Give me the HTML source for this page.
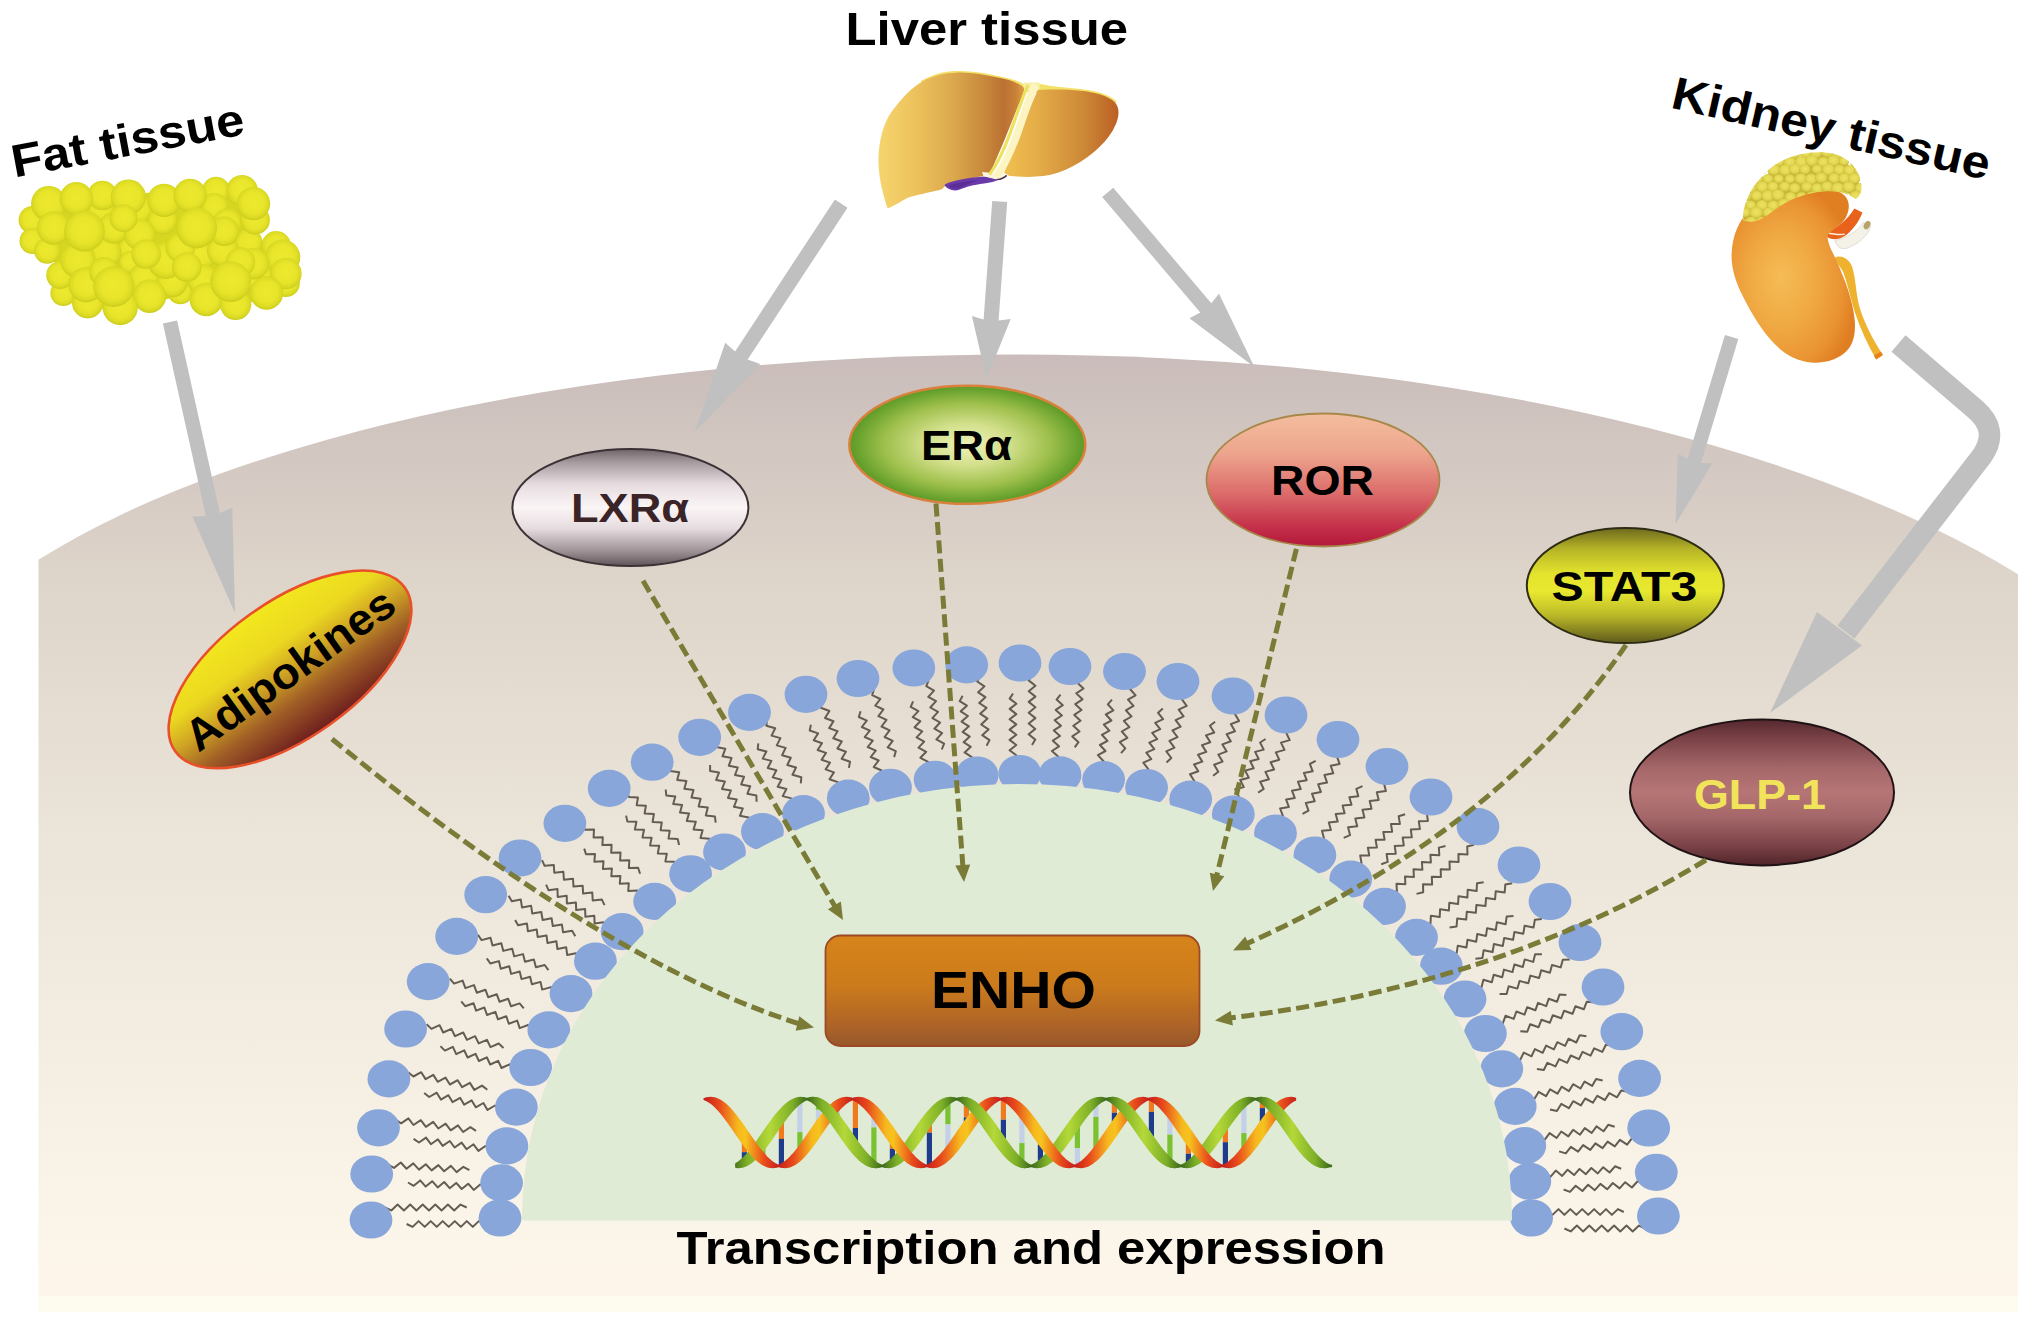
<!DOCTYPE html>
<html><head><meta charset="utf-8"><title>ENHO regulation</title>
<style>html,body{margin:0;padding:0;background:#fff}svg{display:block}</style></head>
<body><svg width="2031" height="1326" viewBox="0 0 2031 1326">
<defs>
<linearGradient id="gDome" x1="0" y1="354" x2="0" y2="1312" gradientUnits="userSpaceOnUse">
<stop offset="0" stop-color="#c9bcba"/><stop offset="0.10" stop-color="#d2c7c1"/><stop offset="0.25" stop-color="#dfd6cb"/>
<stop offset="0.5" stop-color="#ebe4d8"/><stop offset="0.75" stop-color="#f5eee2"/><stop offset="0.93" stop-color="#fcf5ea"/><stop offset="0.983" stop-color="#fdf5ea"/><stop offset="0.984" stop-color="#fefbef"/><stop offset="1" stop-color="#fefbef"/></linearGradient>
<linearGradient id="gBox" x1="0" y1="0" x2="0" y2="1"><stop offset="0" stop-color="#d6841a"/><stop offset="0.45" stop-color="#cc7b1c"/><stop offset="0.78" stop-color="#b06626"/><stop offset="1" stop-color="#98572c"/></linearGradient>
<linearGradient id="gDR" gradientUnits="userSpaceOnUse" x1="704.6" y1="0" x2="778.6" y2="0" spreadMethod="repeat"><stop offset="0" stop-color="#c61f1c"/><stop offset="0.2" stop-color="#e84a1c"/><stop offset="0.45" stop-color="#f6b81e"/><stop offset="0.55" stop-color="#f6c41e"/><stop offset="0.8" stop-color="#ea4e1c"/><stop offset="1" stop-color="#c61f1c"/></linearGradient>
<linearGradient id="gDG" gradientUnits="userSpaceOnUse" x1="732.3" y1="0" x2="807.05" y2="0" spreadMethod="repeat"><stop offset="0" stop-color="#3c6a1a"/><stop offset="0.2" stop-color="#7eb028"/><stop offset="0.5" stop-color="#b4d838"/><stop offset="0.8" stop-color="#7eb028"/><stop offset="1" stop-color="#3c6a1a"/></linearGradient>
<linearGradient id="gLXR" x1="0" y1="0" x2="0" y2="1"><stop offset="0" stop-color="#6f6468"/><stop offset="0.12" stop-color="#a89da1"/><stop offset="0.3" stop-color="#e6dcdf"/><stop offset="0.5" stop-color="#fbf5f6"/><stop offset="0.68" stop-color="#e6dcdf"/><stop offset="0.88" stop-color="#9a8e92"/><stop offset="1" stop-color="#5f5458"/></linearGradient>
<radialGradient id="gER" cx="0.5" cy="0.5" r="0.5"><stop offset="0" stop-color="#eef2b8"/><stop offset="0.35" stop-color="#d3e08c"/><stop offset="0.7" stop-color="#9fc04c"/><stop offset="1" stop-color="#5b9a26"/></radialGradient>
<linearGradient id="gROR" x1="0" y1="0" x2="0" y2="1"><stop offset="0" stop-color="#f3bd9c"/><stop offset="0.3" stop-color="#eda58e"/><stop offset="0.6" stop-color="#dc6c6a"/><stop offset="0.85" stop-color="#c5304a"/><stop offset="1" stop-color="#b3183a"/></linearGradient>
<linearGradient id="gSTAT" x1="0" y1="0" x2="0" y2="1"><stop offset="0" stop-color="#6e6a1e"/><stop offset="0.18" stop-color="#b5b326"/><stop offset="0.4" stop-color="#e4e42e"/><stop offset="0.55" stop-color="#e8e830"/><stop offset="0.75" stop-color="#bdbb28"/><stop offset="1" stop-color="#5e5a1c"/></linearGradient>
<linearGradient id="gGLP" x1="0" y1="0" x2="0" y2="1"><stop offset="0" stop-color="#55282e"/><stop offset="0.14" stop-color="#7c4448"/><stop offset="0.34" stop-color="#a6686a"/><stop offset="0.5" stop-color="#b67575"/><stop offset="0.66" stop-color="#a6686a"/><stop offset="0.86" stop-color="#7c4448"/><stop offset="1" stop-color="#50242a"/></linearGradient>
<linearGradient id="gADI" x1="0" y1="0" x2="0" y2="1"><stop offset="0" stop-color="#f3e81e"/><stop offset="0.3" stop-color="#ebd820"/><stop offset="0.5" stop-color="#cfa424"/><stop offset="0.72" stop-color="#a05e26"/><stop offset="1" stop-color="#6e1e1e"/></linearGradient>
<radialGradient id="gFat" cx="0.5" cy="0.47" r="0.52"><stop offset="0" stop-color="#ede92f"/><stop offset="0.6" stop-color="#e9e52b"/><stop offset="0.85" stop-color="#dcdb24"/><stop offset="1" stop-color="#cdcd1d"/></radialGradient>
<linearGradient id="gLivL" x1="0" y1="0" x2="1" y2="0"><stop offset="0" stop-color="#f6d56e"/><stop offset="0.25" stop-color="#edc25c"/><stop offset="0.5" stop-color="#dcaa4e"/><stop offset="0.72" stop-color="#c98a3c"/><stop offset="0.86" stop-color="#bb7232"/><stop offset="0.94" stop-color="#c98038"/><stop offset="1" stop-color="#dc9c40"/></linearGradient>
<linearGradient id="gLivR" x1="0" y1="0" x2="1" y2="0"><stop offset="0" stop-color="#f0c050"/><stop offset="0.3" stop-color="#e4ac48"/><stop offset="0.7" stop-color="#cc8836"/><stop offset="1" stop-color="#bb5f24"/></linearGradient>
<radialGradient id="gKid" cx="0.42" cy="0.55" r="0.6" fx="0.40" fy="0.5"><stop offset="0" stop-color="#f5bc56"/><stop offset="0.45" stop-color="#f0a942"/><stop offset="0.8" stop-color="#e99332"/><stop offset="1" stop-color="#e07e22"/></radialGradient>
<clipPath id="cCap"><path d="M 1742.6,219.6 C 1743.5,201.5 1751.6,187.1 1760.7,178.0 C 1769.7,167.1 1781.5,159.5 1794.2,155.9 C 1807.7,151.9 1823.1,151.2 1834.5,154.1 C 1845.7,157.0 1855.2,165.7 1859.1,175.5 C 1863.1,185.2 1862.4,194.3 1855.7,199.0 C 1849.4,195.4 1843.9,192.5 1836.7,191.6 C 1825.8,190.3 1815.0,192.1 1804.5,195.0 C 1791.8,198.6 1781.0,204.8 1771.9,212.0 C 1764.3,217.8 1757.4,221.8 1751.3,221.8 C 1747.1,221.8 1743.7,221.4 1742.6,219.6 Z"/></clipPath>
<radialGradient id="gBump" cx="0.5" cy="0.45" r="0.55"><stop offset="0" stop-color="#ece264"/><stop offset="0.6" stop-color="#e4d852"/><stop offset="1" stop-color="#cbbc3a"/></radialGradient>
</defs>
<rect width="2031" height="1326" fill="#fff"/>
<path d="M38.5,1312 L38.5,559.8 A1125.5,407.1 0 0 1 1016.0,354.5 A1200.0,488.7 0 0 1 2018,574.3 L2018,1312 Z" fill="url(#gDome)"/>
<path d="M385.0,1207.5 L391.3,1210.4 L397.6,1204.6 L403.9,1210.4 L410.2,1204.6 L416.4,1210.4 L422.7,1204.6 L429.0,1210.4 L435.3,1204.6 L441.6,1210.4 L447.9,1204.6 L454.2,1210.4 L460.5,1204.6 L466.7,1207.5 M484.8,1224.0 L478.8,1221.1 L472.8,1226.9 L466.8,1221.1 L460.8,1226.9 L454.8,1221.1 L448.7,1226.9 L442.7,1221.1 L436.7,1226.9 L430.7,1221.1 L424.7,1226.9 L418.6,1221.1 L412.6,1226.9 L406.6,1224.0 M388.0,1164.6 L394.0,1167.9 L400.8,1162.5 L406.5,1168.7 L413.3,1163.4 L419.0,1169.6 L425.8,1164.2 L431.6,1170.4 L438.4,1165.1 L444.1,1171.3 L450.9,1165.9 L456.6,1172.1 L463.4,1166.8 L469.4,1170.1 M486.0,1187.8 L480.2,1184.5 L473.7,1189.9 L468.2,1183.7 L461.7,1189.0 L456.2,1182.9 L449.7,1188.2 L444.2,1182.0 L437.7,1187.4 L432.2,1181.2 L425.7,1186.6 L420.2,1180.4 L413.7,1185.8 L408.0,1182.5 M395.4,1119.5 L401.1,1123.3 L408.4,1118.4 L413.5,1125.0 L420.8,1120.2 L425.9,1126.8 L433.2,1121.9 L438.3,1128.5 L445.6,1123.7 L450.7,1130.3 L458.0,1125.4 L463.1,1132.0 L470.4,1127.2 L476.0,1130.9 M490.8,1149.7 L485.4,1146.0 L478.4,1150.9 L473.5,1144.3 L466.5,1149.2 L461.6,1142.6 L454.6,1147.5 L449.8,1141.0 L442.7,1145.9 L437.9,1139.3 L430.9,1144.2 L426.0,1137.6 L419.0,1142.5 L413.6,1138.8 M408.1,1072.3 L413.4,1076.5 L421.2,1072.2 L425.6,1079.1 L433.3,1074.9 L437.7,1081.8 L445.5,1077.6 L449.9,1084.5 L457.7,1080.2 L462.1,1087.2 L469.9,1082.9 L474.3,1089.9 L482.0,1085.6 L487.3,1089.8 M500.0,1109.6 L495.0,1105.5 L487.5,1109.9 L483.4,1103.0 L475.8,1107.3 L471.7,1100.4 L464.2,1104.7 L460.1,1097.8 L452.5,1102.1 L448.4,1095.2 L440.9,1099.6 L436.7,1092.7 L429.2,1097.0 L424.2,1092.9 M426.6,1024.3 L431.4,1028.9 L439.6,1025.2 L443.2,1032.5 L451.4,1028.9 L455.0,1036.2 L463.2,1032.5 L466.9,1039.8 L475.1,1036.2 L478.7,1043.4 L486.9,1039.8 L490.5,1047.1 L498.7,1043.5 L503.5,1048.0 M514.0,1068.8 L509.5,1064.3 L501.5,1068.0 L498.2,1060.8 L490.2,1064.5 L486.8,1057.3 L478.9,1061.0 L475.5,1053.8 L467.6,1057.5 L464.2,1050.3 L456.2,1054.1 L452.9,1046.9 L444.9,1050.6 L440.4,1046.1 M449.8,978.7 L454.1,983.6 L462.6,980.6 L465.4,988.1 L474.0,985.1 L476.8,992.7 L485.4,989.7 L488.2,997.2 L496.8,994.3 L499.6,1001.8 L508.2,998.8 L511.0,1006.3 L519.6,1003.4 L523.8,1008.3 M532.1,1029.8 L528.1,1025.0 L519.7,1028.1 L517.2,1020.6 L508.8,1023.7 L506.3,1016.3 L497.9,1019.3 L495.4,1011.9 L487.0,1015.0 L484.4,1007.5 L476.1,1010.6 L473.5,1003.2 L465.2,1006.2 L461.2,1001.4 M477.9,934.8 L481.6,940.1 L490.5,937.8 L492.5,945.5 L501.3,943.2 L503.3,950.9 L512.2,948.7 L514.2,956.4 L523.0,954.1 L525.0,961.8 L533.9,959.5 L535.9,967.3 L544.7,965.0 L548.4,970.2 M554.3,992.3 L550.9,987.1 L542.2,989.6 L540.5,981.9 L531.9,984.3 L530.1,976.7 L521.5,979.1 L519.7,971.5 L511.1,973.9 L509.3,966.3 L500.7,968.7 L498.9,961.1 L490.3,963.5 L486.8,958.4 M508.6,895.7 L511.8,901.2 L520.8,899.6 L522.0,907.4 L531.1,905.8 L532.3,913.6 L541.3,912.0 L542.6,919.9 L551.6,918.2 L552.8,926.1 L561.9,924.5 L563.1,932.3 L572.1,930.7 L575.3,936.2 M579.0,958.6 L576.0,953.2 L567.2,955.0 L566.2,947.3 L557.4,949.0 L556.4,941.3 L547.5,943.1 L546.5,935.4 L537.7,937.1 L536.7,929.4 L527.9,931.2 L526.9,923.5 L518.1,925.2 L515.1,919.9 M542.0,860.1 L544.6,865.8 L553.8,864.9 L554.3,872.8 L563.4,871.8 L563.9,879.7 L573.0,878.7 L573.5,886.6 L582.7,885.7 L583.1,893.6 L592.3,892.6 L592.7,900.5 L601.9,899.6 L604.5,905.2 M605.9,927.9 L603.5,922.3 L594.6,923.4 L594.3,915.7 L585.4,916.8 L585.1,909.0 L576.2,910.1 L575.9,902.4 L566.9,903.5 L566.7,895.7 L557.7,896.9 L557.5,889.1 L548.5,890.2 L546.1,884.7 M582.7,823.9 L584.7,829.7 L594.0,829.5 L593.6,837.4 L602.8,837.2 L602.4,845.1 L611.6,844.8 L611.2,852.7 L620.5,852.5 L620.1,860.4 L629.3,860.2 L628.9,868.1 L638.1,867.8 L640.1,873.7 M639.1,896.3 L637.3,890.6 L628.2,891.0 L628.8,883.3 L619.8,883.7 L620.4,875.9 L611.3,876.3 L611.9,868.6 L602.9,869.0 L603.5,861.3 L594.4,861.7 L595.0,853.9 L586.0,854.3 L584.2,848.6 M627.4,790.9 L628.7,796.9 L638.0,797.4 L636.7,805.2 L645.9,805.7 L644.6,813.5 L653.9,814.0 L652.6,821.9 L661.8,822.4 L660.6,830.2 L669.8,830.7 L668.5,838.6 L677.7,839.1 L679.1,845.1 M675.6,867.5 L674.4,861.7 L665.4,861.4 L666.8,853.7 L657.8,853.4 L659.2,845.7 L650.1,845.4 L651.6,837.7 L642.5,837.4 L644.0,829.8 L634.9,829.4 L636.4,821.8 L627.3,821.4 L626.1,815.6 M669.3,765.0 L670.1,771.0 L679.2,772.2 L677.2,779.9 L686.4,781.0 L684.4,788.8 L693.5,789.9 L691.5,797.6 L700.6,798.8 L698.6,806.5 L707.8,807.6 L705.8,815.4 L714.9,816.5 L715.7,822.6 M710.1,844.7 L709.5,838.8 L700.5,837.9 L702.6,830.3 L693.6,829.4 L695.8,821.8 L686.8,820.9 L689.0,813.4 L680.0,812.4 L682.1,804.9 L673.2,803.9 L675.3,796.4 L666.3,795.4 L665.7,789.5 M716.2,740.8 L716.3,747.0 L725.3,748.8 L722.5,756.3 L731.5,758.1 L728.8,765.7 L737.8,767.5 L735.0,775.0 L744.0,776.8 L741.2,784.4 L750.2,786.2 L747.4,793.8 L756.4,795.6 L756.6,801.7 M748.8,823.3 L748.7,817.4 L739.9,815.8 L742.8,808.4 L733.9,806.8 L736.8,799.5 L728.0,797.9 L730.9,790.5 L722.0,788.9 L724.9,781.6 L716.1,780.0 L719.0,772.6 L710.1,771.0 L710.1,765.1 M766.9,719.7 L766.4,725.8 L775.2,728.3 L771.6,735.6 L780.4,738.1 L776.8,745.4 L785.6,747.9 L782.1,755.2 L790.8,757.7 L787.3,765.0 L796.0,767.5 L792.5,774.8 L801.3,777.3 L800.8,783.4 M790.8,804.3 L791.4,798.4 L782.7,796.1 L786.4,789.0 L777.7,786.8 L781.4,779.7 L772.7,777.4 L776.4,770.3 L767.7,768.0 L771.4,760.9 L762.7,758.6 L766.4,751.5 L757.7,749.3 L758.3,743.4 M822.0,701.8 L820.9,707.8 L829.4,711.0 L825.0,718.0 L833.5,721.2 L829.2,728.1 L837.6,731.3 L833.3,738.3 L841.8,741.5 L837.4,748.5 L845.9,751.7 L841.6,758.7 L850.0,761.8 L848.9,767.9 M836.7,787.9 L837.9,782.1 L829.5,779.2 L833.9,772.4 L825.6,769.4 L830.0,762.6 L821.6,759.7 L826.0,752.9 L817.6,750.0 L822.0,743.2 L813.7,740.2 L818.1,733.4 L809.7,730.5 L810.9,724.7 M873.9,689.3 L872.2,695.2 L880.3,699.0 L875.3,705.7 L883.4,709.5 L878.4,716.1 L886.5,719.9 L881.5,726.5 L889.6,730.3 L884.6,737.0 L892.7,740.8 L887.7,747.4 L895.8,751.2 L894.1,757.1 M879.9,776.2 L881.7,770.5 L873.7,767.0 L878.7,760.5 L870.7,757.0 L875.8,750.6 L867.7,747.0 L872.8,740.6 L864.7,737.0 L869.8,730.6 L861.8,727.0 L866.8,720.6 L858.8,717.0 L860.6,711.3 M928.6,680.4 L926.3,686.2 L934.0,690.6 L928.3,696.9 L936.0,701.2 L930.3,707.5 L938.0,711.9 L932.4,718.1 L940.1,722.5 L934.4,728.7 L942.1,733.1 L936.4,739.4 L944.1,743.7 L941.8,749.5 M925.7,767.5 L928.1,761.9 L920.4,757.8 L926.2,751.8 L918.5,747.6 L924.2,741.6 L916.6,737.4 L922.3,731.4 L914.6,727.3 L920.3,721.2 L912.7,717.1 L918.4,711.1 L910.7,706.9 L913.1,701.4 M980.0,675.9 L977.2,681.5 L984.4,686.4 L978.2,692.3 L985.4,697.2 L979.2,703.0 L986.5,707.9 L980.2,713.7 L987.5,718.6 L981.2,724.5 L988.5,729.4 L982.2,735.2 L989.5,740.1 L986.6,745.7 M968.9,762.5 L971.8,757.1 L964.6,752.4 L970.8,746.8 L963.6,742.2 L969.8,736.6 L962.6,731.9 L968.9,726.3 L961.6,721.6 L967.9,716.0 L960.7,711.3 L966.9,705.7 L959.7,701.1 L962.6,695.7 M1032.1,675.0 L1028.7,680.4 L1035.4,685.8 L1028.7,691.2 L1035.4,696.6 L1028.7,701.9 L1035.4,707.3 L1028.7,712.7 L1035.4,718.1 L1028.7,723.5 L1035.3,728.9 L1028.6,734.2 L1035.3,739.6 L1032.0,745.0 M1012.9,760.5 L1016.3,755.3 L1009.6,750.2 L1016.3,745.0 L1009.6,739.9 L1016.3,734.7 L1009.6,729.6 L1016.3,724.4 L1009.6,719.3 L1016.3,714.1 L1009.7,708.9 L1016.4,703.8 L1009.7,698.6 L1013.0,693.5 M1081.1,677.6 L1077.3,682.7 L1083.5,688.5 L1076.3,693.4 L1082.5,699.3 L1075.3,704.2 L1081.5,710.0 L1074.3,714.9 L1080.5,720.7 L1073.3,725.7 L1079.5,731.5 L1072.3,736.4 L1078.5,742.2 L1074.7,747.4 M1054.3,761.5 L1058.1,756.6 L1051.9,751.0 L1059.0,746.3 L1052.8,740.7 L1060.0,736.0 L1053.8,730.4 L1060.9,725.8 L1054.7,720.2 L1061.9,715.5 L1055.7,709.9 L1062.8,705.2 L1056.6,699.6 L1060.5,694.7 M1134.3,684.2 L1130.0,689.0 L1135.6,695.3 L1128.0,699.6 L1133.5,705.9 L1125.9,710.3 L1131.5,716.5 L1123.9,720.9 L1129.4,727.2 L1121.8,731.5 L1127.4,737.8 L1119.8,742.1 L1125.3,748.4 L1121.0,753.2 M1099.3,765.8 L1103.6,761.2 L1097.9,755.1 L1105.5,751.0 L1099.9,745.0 L1107.5,740.9 L1101.9,734.8 L1109.4,730.7 L1103.8,724.6 L1111.4,720.5 L1105.8,714.5 L1113.4,710.4 L1107.8,704.3 L1112.0,699.7 M1186.6,694.7 L1181.8,699.2 L1186.7,705.9 L1178.7,709.6 L1183.6,716.3 L1175.6,720.1 L1180.6,726.7 L1172.5,730.5 L1177.5,737.1 L1169.4,740.9 L1174.4,747.6 L1166.3,751.3 L1171.3,758.0 L1166.5,762.5 M1143.6,773.4 L1148.3,769.1 L1143.3,762.7 L1151.3,759.2 L1146.3,752.7 L1154.3,749.2 L1149.3,742.7 L1157.2,739.2 L1152.2,732.8 L1160.2,729.2 L1155.2,722.8 L1163.1,719.2 L1158.1,712.8 L1162.8,708.5 M1240.2,709.9 L1234.9,714.0 L1239.1,721.0 L1230.8,724.1 L1235.0,731.2 L1226.6,734.3 L1230.8,741.3 L1222.4,744.4 L1226.7,751.4 L1218.3,754.6 L1222.5,761.6 L1214.1,764.7 L1218.3,771.7 L1213.1,775.8 M1189.2,784.9 L1194.3,781.0 L1190.0,774.2 L1198.3,771.3 L1194.0,764.5 L1202.3,761.6 L1198.0,754.8 L1206.3,751.9 L1202.0,745.1 L1210.3,742.2 L1206.0,735.4 L1214.3,732.5 L1209.9,725.7 L1215.1,721.8 M1291.8,729.1 L1286.2,732.8 L1289.7,740.1 L1281.0,742.6 L1284.5,749.9 L1275.8,752.4 L1279.3,759.7 L1270.6,762.2 L1274.1,769.5 L1265.4,771.9 L1268.9,779.3 L1260.2,781.7 L1263.7,789.0 L1258.1,792.7 M1233.3,799.9 L1238.8,796.4 L1235.2,789.3 L1243.8,787.1 L1240.2,780.0 L1248.8,777.7 L1245.2,770.6 L1253.7,768.3 L1250.2,761.2 L1258.7,759.0 L1255.1,751.9 L1263.7,749.6 L1260.1,742.5 L1265.6,739.0 M1342.9,753.2 L1336.9,756.4 L1339.6,763.9 L1330.7,765.7 L1333.3,773.3 L1324.4,775.0 L1327.1,782.6 L1318.2,784.3 L1320.9,791.9 L1312.0,793.7 L1314.7,801.2 L1305.8,803.0 L1308.5,810.6 L1302.5,813.8 M1277.1,818.9 L1282.9,815.9 L1280.1,808.5 L1288.9,807.0 L1286.1,799.6 L1294.8,798.1 L1292.0,790.7 L1300.8,789.1 L1298.0,781.8 L1306.7,780.2 L1303.9,772.9 L1312.7,771.3 L1309.9,763.9 L1315.7,760.9 M1390.3,780.6 L1384.0,783.4 L1385.9,791.1 L1376.8,792.2 L1378.7,799.9 L1369.7,801.0 L1371.5,808.7 L1362.5,809.7 L1364.4,817.5 L1355.3,818.5 L1357.2,826.3 L1348.1,827.3 L1350.0,835.1 L1343.7,837.8 M1317.9,840.9 L1324.0,838.4 L1322.0,830.8 L1330.9,830.0 L1328.8,822.4 L1337.7,821.6 L1335.7,814.0 L1344.6,813.2 L1342.6,805.6 L1351.5,804.7 L1349.4,797.2 L1358.3,796.3 L1356.3,788.8 L1362.5,786.2 M1433.4,810.8 L1426.8,813.0 L1427.9,820.9 L1418.8,821.2 L1419.9,829.1 L1410.8,829.4 L1411.8,837.3 L1402.7,837.6 L1403.8,845.5 L1394.7,845.9 L1395.8,853.7 L1386.6,854.1 L1387.7,861.9 L1381.2,864.2 M1355.1,865.3 L1361.5,863.2 L1360.2,855.6 L1369.2,855.4 L1367.9,847.7 L1376.9,847.5 L1375.6,839.8 L1384.6,839.7 L1383.3,832.0 L1392.2,831.8 L1391.0,824.1 L1399.9,823.9 L1398.7,816.3 L1405.1,814.2 M1474.0,844.8 L1467.2,846.5 L1467.5,854.4 L1458.4,854.1 L1458.6,862.0 L1449.5,861.6 L1449.8,869.5 L1440.7,869.2 L1440.9,877.1 L1431.8,876.7 L1432.1,884.6 L1423.0,884.3 L1423.2,892.2 L1416.5,893.9 M1390.4,893.0 L1396.9,891.4 L1396.5,883.7 L1405.4,884.2 L1405.0,876.5 L1413.9,877.0 L1413.5,869.2 L1422.4,869.8 L1421.9,862.0 L1430.9,862.5 L1430.4,854.8 L1439.3,855.3 L1438.9,847.6 L1445.5,846.0 M1512.2,883.3 L1505.3,884.5 L1504.7,892.4 L1495.7,891.3 L1495.1,899.2 L1486.0,898.1 L1485.5,906.0 L1476.4,904.9 L1475.8,912.8 L1466.8,911.7 L1466.2,919.6 L1457.2,918.5 L1456.6,926.4 L1449.6,927.5 M1423.8,924.5 L1430.5,923.5 L1430.9,915.7 L1439.7,917.0 L1440.1,909.2 L1448.9,910.5 L1449.3,902.7 L1458.1,904.0 L1458.5,896.2 L1467.4,897.5 L1467.7,889.7 L1476.6,891.0 L1477.0,883.2 L1483.7,882.2 M1541.9,919.1 L1534.9,919.7 L1533.5,927.6 L1524.6,925.8 L1523.3,933.7 L1514.4,931.9 L1513.1,939.8 L1504.2,938.0 L1502.8,945.9 L1493.9,944.1 L1492.6,952.0 L1483.7,950.2 L1482.4,958.1 L1475.4,958.7 M1449.9,953.9 L1456.6,953.4 L1457.8,945.7 L1466.4,947.5 L1467.5,939.8 L1476.2,941.7 L1477.3,934.0 L1486.0,935.9 L1487.1,928.2 L1495.8,930.0 L1496.9,922.3 L1505.6,924.2 L1506.7,916.5 L1513.5,916.0 M1569.8,959.6 L1562.8,959.7 L1560.7,967.4 L1552.0,965.0 L1549.9,972.7 L1541.2,970.3 L1539.1,978.0 L1530.4,975.6 L1528.3,983.3 L1519.6,980.9 L1517.4,988.6 L1508.7,986.2 L1506.6,993.9 L1499.6,994.1 M1474.7,987.3 L1481.5,987.3 L1483.4,979.7 L1491.8,982.2 L1493.7,974.7 L1502.2,977.2 L1504.0,969.6 L1512.5,972.1 L1514.4,964.5 L1522.8,967.0 L1524.7,959.4 L1533.2,961.9 L1535.1,954.3 L1541.9,954.3 M1593.7,1002.2 L1586.7,1001.8 L1583.8,1009.3 L1575.4,1006.3 L1572.5,1013.8 L1564.1,1010.7 L1561.2,1018.3 L1552.8,1015.2 L1549.9,1022.7 L1541.5,1019.7 L1538.6,1027.2 L1530.2,1024.2 L1527.3,1031.7 L1520.3,1031.3 M1496.1,1022.7 L1502.9,1023.2 L1505.5,1015.8 L1513.7,1018.9 L1516.4,1011.5 L1524.5,1014.6 L1527.2,1007.2 L1535.4,1010.3 L1538.0,1002.9 L1546.2,1006.1 L1548.8,998.7 L1557.0,1001.8 L1559.6,994.4 L1566.4,994.9 M1612.9,1045.6 L1605.9,1044.7 L1602.3,1051.9 L1594.2,1048.3 L1590.6,1055.6 L1582.5,1051.9 L1578.9,1059.2 L1570.8,1055.5 L1567.2,1062.8 L1559.1,1059.1 L1555.5,1066.4 L1547.4,1062.8 L1543.8,1070.0 L1536.9,1069.1 M1513.6,1058.8 L1520.3,1059.8 L1523.7,1052.6 L1531.5,1056.3 L1534.9,1049.1 L1542.7,1052.8 L1546.1,1045.6 L1553.9,1049.4 L1557.3,1042.2 L1565.1,1045.9 L1568.5,1038.7 L1576.3,1042.5 L1579.7,1035.3 L1586.4,1036.3 M1628.1,1091.8 L1621.3,1090.4 L1617.0,1097.3 L1609.3,1093.1 L1604.9,1100.0 L1597.3,1095.8 L1592.9,1102.7 L1585.2,1098.5 L1580.9,1105.4 L1573.2,1101.2 L1568.9,1108.2 L1561.2,1103.9 L1556.9,1110.9 L1550.0,1109.4 M1527.9,1097.3 L1534.5,1098.8 L1538.6,1091.9 L1546.0,1096.2 L1550.1,1089.3 L1557.5,1093.7 L1561.6,1086.7 L1569.0,1091.1 L1573.1,1084.2 L1580.5,1088.5 L1584.6,1081.6 L1592.1,1085.9 L1596.1,1079.0 L1602.7,1080.5 M1638.8,1140.1 L1632.1,1138.1 L1627.1,1144.7 L1619.9,1139.8 L1614.8,1146.4 L1607.6,1141.6 L1602.6,1148.2 L1595.4,1143.3 L1590.3,1149.9 L1583.1,1145.1 L1578.1,1151.7 L1570.9,1146.8 L1565.8,1153.4 L1559.1,1151.4 M1538.4,1137.7 L1544.8,1139.7 L1549.6,1133.1 L1556.6,1138.0 L1561.3,1131.5 L1568.3,1136.4 L1573.1,1129.8 L1580.0,1134.7 L1584.8,1128.1 L1591.7,1133.0 L1596.5,1126.4 L1603.5,1131.3 L1608.2,1124.8 L1614.7,1126.8 M1644.0,1183.7 L1637.6,1181.3 L1631.9,1187.5 L1625.2,1182.2 L1619.6,1188.4 L1612.8,1183.0 L1607.2,1189.3 L1600.4,1183.9 L1594.8,1190.2 L1588.1,1184.8 L1582.4,1191.0 L1575.7,1185.7 L1570.0,1191.9 L1563.6,1189.5 M1544.2,1174.3 L1550.4,1176.8 L1555.8,1170.6 L1562.2,1175.9 L1567.6,1169.7 L1574.1,1175.1 L1579.5,1168.9 L1585.9,1174.2 L1591.3,1168.0 L1597.8,1173.4 L1603.2,1167.2 L1609.6,1172.5 L1615.0,1166.3 L1621.2,1168.8 M1645.2,1228.5 L1639.0,1225.6 L1632.7,1231.4 L1626.5,1225.6 L1620.3,1231.4 L1614.1,1225.6 L1607.9,1231.4 L1601.7,1225.6 L1595.5,1231.4 L1589.3,1225.6 L1583.1,1231.4 L1576.9,1225.6 L1570.7,1231.4 L1564.4,1228.5 M1546.6,1212.0 L1552.5,1214.9 L1558.5,1209.1 L1564.4,1214.9 L1570.3,1209.1 L1576.3,1214.9 L1582.2,1209.1 L1588.2,1214.9 L1594.1,1209.1 L1600.1,1214.9 L1606.0,1209.1 L1611.9,1214.9 L1617.9,1209.1 L1623.8,1212.0" fill="none" stroke="#645c52" stroke-width="2" stroke-linejoin="round"/>
<g fill="#88a6da"><ellipse cx="371.0" cy="1220.0" rx="21.4" ry="18.6"/><ellipse cx="371.7" cy="1174.0" rx="21.4" ry="18.6"/><ellipse cx="378.5" cy="1127.8" rx="21.4" ry="18.6"/><ellipse cx="388.9" cy="1078.9" rx="21.4" ry="18.6"/><ellipse cx="405.6" cy="1029.0" rx="21.4" ry="18.6"/><ellipse cx="428.2" cy="981.6" rx="21.4" ry="18.6"/><ellipse cx="456.7" cy="936.4" rx="21.4" ry="18.6"/><ellipse cx="485.7" cy="894.7" rx="21.4" ry="18.6"/><ellipse cx="520.0" cy="858.0" rx="21.4" ry="18.6"/><ellipse cx="564.9" cy="823.3" rx="21.4" ry="18.6"/><ellipse cx="609.2" cy="788.4" rx="21.4" ry="18.6"/><ellipse cx="652.2" cy="762.2" rx="21.4" ry="18.6"/><ellipse cx="699.7" cy="737.3" rx="21.4" ry="18.6"/><ellipse cx="749.5" cy="712.4" rx="21.4" ry="18.6"/><ellipse cx="806.0" cy="694.3" rx="21.4" ry="18.6"/><ellipse cx="858.0" cy="678.5" rx="21.4" ry="18.6"/><ellipse cx="913.8" cy="668.0" rx="21.4" ry="18.6"/><ellipse cx="966.7" cy="664.9" rx="21.4" ry="18.6"/><ellipse cx="1020.0" cy="663.0" rx="21.4" ry="18.6"/><ellipse cx="1070.0" cy="666.5" rx="21.4" ry="18.6"/><ellipse cx="1124.5" cy="671.5" rx="21.4" ry="18.6"/><ellipse cx="1178.0" cy="681.5" rx="21.4" ry="18.6"/><ellipse cx="1233.0" cy="696.0" rx="21.4" ry="18.6"/><ellipse cx="1286.0" cy="715.0" rx="21.4" ry="18.6"/><ellipse cx="1338.0" cy="739.5" rx="21.4" ry="18.6"/><ellipse cx="1387.0" cy="766.5" rx="21.4" ry="18.6"/><ellipse cx="1431.0" cy="797.0" rx="21.4" ry="18.6"/><ellipse cx="1478.0" cy="826.7" rx="21.4" ry="18.6"/><ellipse cx="1519.0" cy="865.0" rx="21.4" ry="18.6"/><ellipse cx="1550.0" cy="901.5" rx="21.4" ry="18.6"/><ellipse cx="1580.0" cy="942.5" rx="21.4" ry="18.6"/><ellipse cx="1603.0" cy="987.0" rx="21.4" ry="18.6"/><ellipse cx="1621.8" cy="1031.7" rx="21.4" ry="18.6"/><ellipse cx="1639.6" cy="1078.4" rx="21.4" ry="18.6"/><ellipse cx="1648.7" cy="1128.0" rx="21.4" ry="18.6"/><ellipse cx="1656.3" cy="1172.3" rx="21.4" ry="18.6"/><ellipse cx="1658.4" cy="1216.0" rx="21.4" ry="18.6"/><ellipse cx="500.0" cy="1218.0" rx="21.4" ry="18.6"/><ellipse cx="501.6" cy="1182.8" rx="21.4" ry="18.6"/><ellipse cx="506.9" cy="1145.9" rx="21.4" ry="18.6"/><ellipse cx="516.4" cy="1107.1" rx="21.4" ry="18.6"/><ellipse cx="530.7" cy="1067.5" rx="21.4" ry="18.6"/><ellipse cx="548.8" cy="1029.9" rx="21.4" ry="18.6"/><ellipse cx="571.0" cy="993.6" rx="21.4" ry="18.6"/><ellipse cx="595.4" cy="961.2" rx="21.4" ry="18.6"/><ellipse cx="622.1" cy="931.6" rx="21.4" ry="18.6"/><ellipse cx="654.7" cy="901.4" rx="21.4" ry="18.6"/><ellipse cx="690.6" cy="873.8" rx="21.4" ry="18.6"/><ellipse cx="724.5" cy="852.0" rx="21.4" ry="18.6"/><ellipse cx="762.4" cy="831.6" rx="21.4" ry="18.6"/><ellipse cx="803.5" cy="813.6" rx="21.4" ry="18.6"/><ellipse cx="848.3" cy="798.2" rx="21.4" ry="18.6"/><ellipse cx="890.5" cy="787.3" rx="21.4" ry="18.6"/><ellipse cx="935.1" cy="779.3" rx="21.4" ry="18.6"/><ellipse cx="977.1" cy="775.0" rx="21.4" ry="18.6"/><ellipse cx="1019.8" cy="773.5" rx="21.4" ry="18.6"/><ellipse cx="1060.0" cy="774.9" rx="21.4" ry="18.6"/><ellipse cx="1103.6" cy="779.6" rx="21.4" ry="18.6"/><ellipse cx="1146.6" cy="787.5" rx="21.4" ry="18.6"/><ellipse cx="1190.7" cy="799.2" rx="21.4" ry="18.6"/><ellipse cx="1233.3" cy="814.2" rx="21.4" ry="18.6"/><ellipse cx="1275.5" cy="833.2" rx="21.4" ry="18.6"/><ellipse cx="1314.9" cy="855.0" rx="21.4" ry="18.6"/><ellipse cx="1350.7" cy="879.1" rx="21.4" ry="18.6"/><ellipse cx="1384.5" cy="906.4" rx="21.4" ry="18.6"/><ellipse cx="1416.5" cy="937.4" rx="21.4" ry="18.6"/><ellipse cx="1441.4" cy="966.2" rx="21.4" ry="18.6"/><ellipse cx="1465.0" cy="999.0" rx="21.4" ry="18.6"/><ellipse cx="1485.4" cy="1033.5" rx="21.4" ry="18.6"/><ellipse cx="1501.8" cy="1068.8" rx="21.4" ry="18.6"/><ellipse cx="1515.2" cy="1106.4" rx="21.4" ry="18.6"/><ellipse cx="1524.8" cy="1145.7" rx="21.4" ry="18.6"/><ellipse cx="1529.8" cy="1181.4" rx="21.4" ry="18.6"/><ellipse cx="1531.6" cy="1218.0" rx="21.4" ry="18.6"/></g>
<path d="M522.0,1220.5 L522.0,1218 A497.0,434.0 0 0 1 1019,784.0 A493.0,434.0 0 0 1 1512.0,1218 L1512.0,1220.5 Z" fill="#dfebd5"/>
<rect x="825.5" y="935.5" width="374" height="110.5" rx="15" ry="15" fill="url(#gBox)" stroke="#9c4a26" stroke-width="1.8"/>
<rect x="741.8" y="1136.6" width="5.2" height="15.6" fill="#f07a1e"/><rect x="741.8" y="1152.2" width="5.2" height="10.4" fill="#1f3c8c"/><rect x="760.3" y="1142.2" width="5.2" height="5.2" fill="#c4cfe8"/><rect x="760.3" y="1147.4" width="5.2" height="12.2" fill="#7ac231"/><rect x="778.8" y="1116.2" width="5.2" height="22.8" fill="#f07a1e"/><rect x="778.8" y="1138.9" width="5.2" height="27.8" fill="#1f3c8c"/><rect x="797.3" y="1099.5" width="5.2" height="32.6" fill="#c4cfe8"/><rect x="797.3" y="1132.1" width="5.2" height="21.7" fill="#7ac231"/><rect x="815.8" y="1101.9" width="5.2" height="8.0" fill="#7ac231"/><rect x="815.8" y="1109.8" width="5.2" height="18.6" fill="#c4cfe8"/><rect x="834.3" y="1105.4" width="5.2" height="7.4" fill="#c4cfe8"/><rect x="834.3" y="1112.8" width="5.2" height="9.0" fill="#7ac231"/><rect x="852.8" y="1098.2" width="5.2" height="29.8" fill="#f07a1e"/><rect x="852.8" y="1128.0" width="5.2" height="19.8" fill="#1f3c8c"/><rect x="871.3" y="1111.2" width="5.2" height="16.2" fill="#c4cfe8"/><rect x="871.3" y="1127.4" width="5.2" height="37.8" fill="#7ac231"/><rect x="889.8" y="1136.6" width="5.2" height="12.2" fill="#f07a1e"/><rect x="889.8" y="1148.8" width="5.2" height="14.9" fill="#1f3c8c"/><rect x="926.8" y="1118.1" width="5.2" height="14.6" fill="#f07a1e"/><rect x="926.8" y="1132.7" width="5.2" height="34.0" fill="#1f3c8c"/><rect x="945.3" y="1100.3" width="5.2" height="24.1" fill="#7ac231"/><rect x="945.3" y="1124.4" width="5.2" height="29.5" fill="#c4cfe8"/><rect x="963.8" y="1100.9" width="5.2" height="16.5" fill="#f07a1e"/><rect x="963.8" y="1117.4" width="5.2" height="11.0" fill="#1f3c8c"/><rect x="1000.8" y="1098.2" width="5.2" height="21.4" fill="#f07a1e"/><rect x="1000.8" y="1119.7" width="5.2" height="26.2" fill="#1f3c8c"/><rect x="1019.3" y="1111.2" width="5.2" height="31.9" fill="#c4cfe8"/><rect x="1019.3" y="1143.1" width="5.2" height="21.3" fill="#7ac231"/><rect x="1037.8" y="1136.6" width="5.2" height="8.4" fill="#f07a1e"/><rect x="1037.8" y="1145.0" width="5.2" height="19.5" fill="#1f3c8c"/><rect x="1074.8" y="1120.1" width="5.2" height="28.0" fill="#7ac231"/><rect x="1074.8" y="1148.1" width="5.2" height="18.7" fill="#c4cfe8"/><rect x="1093.3" y="1101.1" width="5.2" height="15.8" fill="#c4cfe8"/><rect x="1093.3" y="1116.9" width="5.2" height="36.9" fill="#7ac231"/><rect x="1111.8" y="1100.1" width="5.2" height="12.7" fill="#f07a1e"/><rect x="1111.8" y="1112.8" width="5.2" height="15.6" fill="#1f3c8c"/><rect x="1148.8" y="1098.2" width="5.2" height="13.7" fill="#f07a1e"/><rect x="1148.8" y="1111.9" width="5.2" height="31.9" fill="#1f3c8c"/><rect x="1167.3" y="1111.2" width="5.2" height="23.5" fill="#c4cfe8"/><rect x="1167.3" y="1134.7" width="5.2" height="28.8" fill="#7ac231"/><rect x="1185.8" y="1136.6" width="5.2" height="17.2" fill="#f07a1e"/><rect x="1185.8" y="1153.8" width="5.2" height="11.5" fill="#1f3c8c"/><rect x="1222.8" y="1122.2" width="5.2" height="20.1" fill="#f07a1e"/><rect x="1222.8" y="1142.2" width="5.2" height="24.5" fill="#1f3c8c"/><rect x="1241.3" y="1102.1" width="5.2" height="31.1" fill="#c4cfe8"/><rect x="1241.3" y="1133.1" width="5.2" height="20.7" fill="#7ac231"/><rect x="1259.8" y="1099.4" width="5.2" height="8.7" fill="#f07a1e"/><rect x="1259.8" y="1108.1" width="5.2" height="20.3" fill="#1f3c8c"/><path d="M736.3,1166.9 L738.3,1167.0 L740.3,1166.9 L742.3,1166.5 L744.3,1165.9 L746.3,1165.1 L748.3,1164.0 L750.3,1162.7 L752.3,1161.2 L754.3,1159.5 L756.3,1157.6 L758.3,1155.5 L760.3,1153.2 L762.3,1150.9 L764.3,1148.3 L766.3,1145.7 L768.3,1143.0 L770.3,1140.2 L772.3,1137.3 L774.3,1134.4 L776.3,1131.5 L778.3,1128.6 L780.4,1125.8 L782.4,1122.9 L784.4,1120.2 L786.4,1117.5 L788.4,1115.0 L790.4,1112.5 L792.4,1110.2 L794.4,1108.1 L796.4,1106.1 L798.4,1104.4 L800.4,1102.8 L802.4,1101.4 L804.4,1100.3 L806.4,1099.3 L808.4,1098.7 L810.4,1098.2 L812.4,1098.0 L814.4,1098.1 L816.4,1098.3 L818.4,1098.9 L820.4,1099.6 L822.4,1100.6 L824.4,1101.9 L826.4,1103.3 L828.4,1104.9 L830.4,1106.8 L832.4,1108.8 L834.4,1111.0 L836.4,1113.3 L838.4,1115.8 L840.4,1118.4 L842.4,1121.1 L844.4,1123.9 L846.4,1126.7 L848.4,1129.6 L850.4,1132.5 L852.4,1135.4 L854.4,1138.3 L856.4,1141.1 L858.4,1143.9 L860.4,1146.6 L862.4,1149.2 L864.5,1151.7 L866.5,1154.0 L868.5,1156.2 L870.5,1158.2 L872.5,1160.1 L874.5,1161.7 L876.5,1163.2 L878.5,1164.4 L880.5,1165.4 L882.5,1166.1 L884.5,1166.7 L886.5,1166.9 L888.5,1167.0 L890.5,1166.8 L892.5,1166.3 L894.5,1165.6 L896.5,1164.7 L898.5,1163.6 L900.5,1162.2 L902.5,1160.6 L904.5,1158.8 L906.5,1156.9 L908.5,1154.7 L910.5,1152.4 L912.5,1150.0 L914.5,1147.5 L916.5,1144.8 L918.5,1142.0 L920.5,1139.2 L922.5,1136.3 L924.5,1133.4 L926.5,1130.5 L928.5,1127.7 L930.5,1124.8 L932.5,1122.0 L934.5,1119.3 L936.5,1116.6 L938.5,1114.1 L940.5,1111.7 L942.5,1109.5 L944.5,1107.4 L946.5,1105.5 L948.5,1103.8 L950.6,1102.3 L952.6,1101.0 L954.6,1099.9 L956.6,1099.1 L958.6,1098.5 L960.6,1098.1 L962.6,1098.0 L964.6,1098.1 L966.6,1098.5 L968.6,1099.1 L970.6,1099.9 L972.6,1101.0 L974.6,1102.3 L976.6,1103.8 L978.6,1105.5 L980.6,1107.4 L982.6,1109.5 L984.6,1111.8 L986.6,1114.2 L988.6,1116.7 L990.6,1119.3 L992.6,1122.0 L994.6,1124.8 L996.6,1127.7 L998.6,1130.6 L1000.6,1133.5 L1002.6,1136.4 L1004.6,1139.3 L1006.6,1142.1 L1008.6,1144.8 L1010.6,1147.5 L1012.6,1150.1 L1014.6,1152.5 L1016.6,1154.8 L1018.6,1156.9 L1020.6,1158.9 L1022.6,1160.7 L1024.6,1162.2 L1026.6,1163.6 L1028.6,1164.7 L1030.6,1165.7 L1032.6,1166.3 L1034.7,1166.8 L1036.7,1167.0 L1038.7,1166.9 L1040.7,1166.7 L1042.7,1166.1 L1044.7,1165.4 L1046.7,1164.4 L1048.7,1163.1 L1050.7,1161.7 L1052.7,1160.0 L1054.7,1158.2 L1056.7,1156.2 L1058.7,1154.0 L1060.7,1151.6 L1062.7,1149.2 L1064.7,1146.6 L1066.7,1143.9 L1068.7,1141.1 L1070.7,1138.2 L1072.7,1135.4 L1074.7,1132.5 L1076.7,1129.6 L1078.7,1126.7 L1080.7,1123.8 L1082.7,1121.1 L1084.7,1118.4 L1086.7,1115.8 L1088.7,1113.3 L1090.7,1111.0 L1092.7,1108.8 L1094.7,1106.8 L1096.7,1104.9 L1098.7,1103.3 L1100.7,1101.8 L1102.7,1100.6 L1104.7,1099.6 L1106.7,1098.9 L1108.7,1098.3 L1110.7,1098.1 L1112.7,1098.0 L1114.7,1098.2 L1116.7,1098.7 L1118.8,1099.4 L1120.8,1100.3 L1122.8,1101.4 L1124.8,1102.8 L1126.8,1104.4 L1128.8,1106.2 L1130.8,1108.1 L1132.8,1110.3 L1134.8,1112.6 L1136.8,1115.0 L1138.8,1117.6 L1140.8,1120.2 L1142.8,1123.0 L1144.8,1125.8 L1146.8,1128.7 L1148.8,1131.6 L1150.8,1134.5 L1152.8,1137.4 L1154.8,1140.2 L1156.8,1143.0 L1158.8,1145.7 L1160.8,1148.4 L1162.8,1150.9 L1164.8,1153.3 L1166.8,1155.5 L1168.8,1157.6 L1170.8,1159.5 L1172.8,1161.2 L1174.8,1162.7 L1176.8,1164.0 L1178.8,1165.1 L1180.8,1165.9 L1182.8,1166.5 L1184.8,1166.9 L1186.8,1167.0 L1188.8,1166.9 L1190.8,1166.5 L1192.8,1165.9 L1194.8,1165.0 L1196.8,1164.0 L1198.8,1162.7 L1200.8,1161.2 L1202.8,1159.4 L1204.9,1157.5 L1206.9,1155.5 L1208.9,1153.2 L1210.9,1150.8 L1212.9,1148.3 L1214.9,1145.7 L1216.9,1142.9 L1218.9,1140.1 L1220.9,1137.3 L1222.9,1134.4 L1224.9,1131.5 L1226.9,1128.6 L1228.9,1125.7 L1230.9,1122.9 L1232.9,1120.2 L1234.9,1117.5 L1236.9,1114.9 L1238.9,1112.5 L1240.9,1110.2 L1242.9,1108.1 L1244.9,1106.1 L1246.9,1104.3 L1248.9,1102.8 L1250.9,1101.4 L1252.9,1100.3 L1254.9,1099.3 L1256.9,1098.7 L1258.9,1098.2 L1260.9,1098.0 L1262.9,1098.1 L1264.9,1098.3 L1266.9,1098.9 L1268.9,1099.6 L1270.9,1100.6 L1272.9,1101.9 L1274.9,1103.3 L1276.9,1105.0 L1278.9,1106.8 L1280.9,1108.8 L1282.9,1111.0 L1284.9,1113.4 L1286.9,1115.9 L1289.0,1118.5 L1291.0,1121.2 L1293.0,1123.9 L1295.0,1126.8 L1297.0,1129.7 L1299.0,1132.6 L1301.0,1135.5 L1303.0,1138.3 L1305.0,1141.2 L1307.0,1143.9 L1309.0,1146.6 L1311.0,1149.2 L1313.0,1151.7 L1315.0,1154.1 L1317.0,1156.2 L1319.0,1158.3 L1321.0,1160.1 L1323.0,1161.7 L1325.0,1163.2 L1327.0,1164.4 L1329.0,1165.4 L1331.0,1166.1 L1331.0,1165.6 L1329.0,1166.3 L1327.0,1166.8 L1325.0,1167.0 L1323.0,1166.9 L1321.0,1166.7 L1319.0,1166.1 L1317.0,1165.4 L1315.0,1164.4 L1313.0,1163.2 L1311.0,1161.7 L1309.0,1160.1 L1307.0,1158.2 L1305.0,1156.2 L1303.0,1154.0 L1301.0,1151.7 L1299.0,1149.2 L1297.0,1146.6 L1295.0,1143.9 L1293.0,1141.2 L1291.0,1138.3 L1289.0,1135.4 L1286.9,1132.5 L1284.9,1129.6 L1282.9,1126.8 L1280.9,1123.9 L1278.9,1121.1 L1276.9,1118.4 L1274.9,1115.8 L1272.9,1113.4 L1270.9,1111.0 L1268.9,1108.8 L1266.9,1106.8 L1264.9,1105.0 L1262.9,1103.3 L1260.9,1101.9 L1258.9,1100.6 L1256.9,1099.6 L1254.9,1098.9 L1252.9,1098.3 L1250.9,1098.1 L1248.9,1098.0 L1246.9,1098.2 L1244.9,1098.7 L1242.9,1099.3 L1240.9,1100.3 L1238.9,1101.4 L1236.9,1102.8 L1234.9,1104.3 L1232.9,1106.1 L1230.9,1108.1 L1228.9,1110.2 L1226.9,1112.5 L1224.9,1114.9 L1222.9,1117.5 L1220.9,1120.2 L1218.9,1122.9 L1216.9,1125.7 L1214.9,1128.6 L1212.9,1131.5 L1210.9,1134.4 L1208.9,1137.3 L1206.9,1140.2 L1204.9,1143.0 L1202.8,1145.7 L1200.8,1148.3 L1198.8,1150.8 L1196.8,1153.2 L1194.8,1155.5 L1192.8,1157.6 L1190.8,1159.5 L1188.8,1161.2 L1186.8,1162.7 L1184.8,1164.0 L1182.8,1165.1 L1180.8,1165.9 L1178.8,1166.5 L1176.8,1166.9 L1174.8,1167.0 L1172.8,1166.9 L1170.8,1166.5 L1168.8,1165.9 L1166.8,1165.1 L1164.8,1164.0 L1162.8,1162.7 L1160.8,1161.2 L1158.8,1159.5 L1156.8,1157.6 L1154.8,1155.5 L1152.8,1153.3 L1150.8,1150.9 L1148.8,1148.4 L1146.8,1145.7 L1144.8,1143.0 L1142.8,1140.2 L1140.8,1137.3 L1138.8,1134.5 L1136.8,1131.6 L1134.8,1128.7 L1132.8,1125.8 L1130.8,1123.0 L1128.8,1120.2 L1126.8,1117.5 L1124.8,1115.0 L1122.8,1112.6 L1120.8,1110.3 L1118.8,1108.1 L1116.7,1106.2 L1114.7,1104.4 L1112.7,1102.8 L1110.7,1101.4 L1108.7,1100.3 L1106.7,1099.4 L1104.7,1098.7 L1102.7,1098.2 L1100.7,1098.0 L1098.7,1098.1 L1096.7,1098.3 L1094.7,1098.9 L1092.7,1099.6 L1090.7,1100.6 L1088.7,1101.8 L1086.7,1103.3 L1084.7,1104.9 L1082.7,1106.8 L1080.7,1108.8 L1078.7,1111.0 L1076.7,1113.3 L1074.7,1115.8 L1072.7,1118.4 L1070.7,1121.1 L1068.7,1123.9 L1066.7,1126.7 L1064.7,1129.6 L1062.7,1132.5 L1060.7,1135.4 L1058.7,1138.3 L1056.7,1141.1 L1054.7,1143.9 L1052.7,1146.6 L1050.7,1149.2 L1048.7,1151.7 L1046.7,1154.0 L1044.7,1156.2 L1042.7,1158.2 L1040.7,1160.1 L1038.7,1161.7 L1036.7,1163.1 L1034.7,1164.4 L1032.6,1165.4 L1030.6,1166.1 L1028.6,1166.7 L1026.6,1166.9 L1024.6,1167.0 L1022.6,1166.8 L1020.6,1166.3 L1018.6,1165.7 L1016.6,1164.7 L1014.6,1163.6 L1012.6,1162.2 L1010.6,1160.6 L1008.6,1158.9 L1006.6,1156.9 L1004.6,1154.8 L1002.6,1152.5 L1000.6,1150.0 L998.6,1147.5 L996.6,1144.8 L994.6,1142.1 L992.6,1139.2 L990.6,1136.4 L988.6,1133.5 L986.6,1130.6 L984.6,1127.7 L982.6,1124.8 L980.6,1122.0 L978.6,1119.3 L976.6,1116.7 L974.6,1114.1 L972.6,1111.8 L970.6,1109.5 L968.6,1107.4 L966.6,1105.5 L964.6,1103.8 L962.6,1102.3 L960.6,1101.0 L958.6,1099.9 L956.6,1099.1 L954.6,1098.5 L952.6,1098.1 L950.6,1098.0 L948.5,1098.1 L946.5,1098.5 L944.5,1099.1 L942.5,1099.9 L940.5,1101.0 L938.5,1102.3 L936.5,1103.8 L934.5,1105.5 L932.5,1107.4 L930.5,1109.5 L928.5,1111.8 L926.5,1114.1 L924.5,1116.7 L922.5,1119.3 L920.5,1122.0 L918.5,1124.8 L916.5,1127.7 L914.5,1130.6 L912.5,1133.5 L910.5,1136.4 L908.5,1139.2 L906.5,1142.1 L904.5,1144.8 L902.5,1147.5 L900.5,1150.0 L898.5,1152.5 L896.5,1154.8 L894.5,1156.9 L892.5,1158.9 L890.5,1160.6 L888.5,1162.2 L886.5,1163.6 L884.5,1164.7 L882.5,1165.7 L880.5,1166.3 L878.5,1166.8 L876.5,1167.0 L874.5,1166.9 L872.5,1166.7 L870.5,1166.1 L868.5,1165.4 L866.5,1164.4 L864.5,1163.1 L862.4,1161.7 L860.4,1160.1 L858.4,1158.2 L856.4,1156.2 L854.4,1154.0 L852.4,1151.7 L850.4,1149.2 L848.4,1146.6 L846.4,1143.9 L844.4,1141.1 L842.4,1138.3 L840.4,1135.4 L838.4,1132.5 L836.4,1129.6 L834.4,1126.7 L832.4,1123.9 L830.4,1121.1 L828.4,1118.4 L826.4,1115.8 L824.4,1113.3 L822.4,1111.0 L820.4,1108.8 L818.4,1106.8 L816.4,1104.9 L814.4,1103.3 L812.4,1101.8 L810.4,1100.6 L808.4,1099.6 L806.4,1098.9 L804.4,1098.3 L802.4,1098.1 L800.4,1098.0 L798.4,1098.2 L796.4,1098.7 L794.4,1099.4 L792.4,1100.3 L790.4,1101.4 L788.4,1102.8 L786.4,1104.4 L784.4,1106.1 L782.4,1108.1 L780.4,1110.3 L778.3,1112.5 L776.3,1115.0 L774.3,1117.5 L772.3,1120.2 L770.3,1123.0 L768.3,1125.8 L766.3,1128.7 L764.3,1131.5 L762.3,1134.4 L760.3,1137.3 L758.3,1140.2 L756.3,1143.0 L754.3,1145.7 L752.3,1148.3 L750.3,1150.9 L748.3,1153.3 L746.3,1155.5 L744.3,1157.6 L742.3,1159.5 L740.3,1161.2 L738.3,1162.7 L736.3,1164.0 Z" fill="url(#gDG)" stroke="url(#gDG)" stroke-width="2.4" stroke-linejoin="round"/><path d="M704.6,1099.1 L706.6,1098.5 L708.6,1098.1 L710.6,1098.0 L712.6,1098.1 L714.6,1098.5 L716.6,1099.1 L718.6,1100.0 L720.6,1101.1 L722.6,1102.4 L724.6,1103.9 L726.6,1105.7 L728.6,1107.6 L730.6,1109.7 L732.6,1112.0 L734.6,1114.4 L736.6,1117.0 L738.6,1119.7 L740.6,1122.4 L742.6,1125.3 L744.6,1128.2 L746.6,1131.1 L748.6,1134.0 L750.6,1136.9 L752.6,1139.8 L754.6,1142.6 L756.6,1145.4 L758.6,1148.1 L760.6,1150.6 L762.6,1153.1 L764.6,1155.3 L766.6,1157.5 L768.6,1159.4 L770.6,1161.1 L772.6,1162.7 L774.6,1164.0 L776.6,1165.1 L778.7,1165.9 L780.7,1166.5 L782.7,1166.9 L784.7,1167.0 L786.7,1166.9 L788.7,1166.5 L790.7,1165.9 L792.7,1165.0 L794.7,1163.9 L796.7,1162.6 L798.7,1161.0 L800.7,1159.3 L802.7,1157.3 L804.7,1155.2 L806.7,1152.9 L808.7,1150.5 L810.7,1147.9 L812.7,1145.3 L814.7,1142.5 L816.7,1139.7 L818.7,1136.8 L820.7,1133.8 L822.7,1130.9 L824.7,1128.0 L826.7,1125.1 L828.7,1122.3 L830.7,1119.5 L832.7,1116.9 L834.7,1114.3 L836.7,1111.9 L838.7,1109.6 L840.7,1107.5 L842.7,1105.6 L844.7,1103.8 L846.7,1102.3 L848.7,1101.0 L850.7,1099.9 L852.7,1099.1 L854.7,1098.5 L856.7,1098.1 L858.7,1098.0 L860.7,1098.1 L862.7,1098.5 L864.7,1099.2 L866.7,1100.0 L868.7,1101.1 L870.7,1102.5 L872.7,1104.0 L874.7,1105.8 L876.7,1107.7 L878.7,1109.8 L880.7,1112.1 L882.7,1114.6 L884.7,1117.1 L886.7,1119.8 L888.7,1122.6 L890.7,1125.4 L892.7,1128.3 L894.7,1131.2 L896.7,1134.2 L898.7,1137.1 L900.7,1140.0 L902.7,1142.8 L904.7,1145.5 L906.7,1148.2 L908.7,1150.8 L910.7,1153.2 L912.7,1155.4 L914.7,1157.6 L916.7,1159.5 L918.7,1161.2 L920.7,1162.7 L922.7,1164.0 L924.7,1165.1 L926.8,1165.9 L928.8,1166.5 L930.8,1166.9 L932.8,1167.0 L934.8,1166.9 L936.8,1166.5 L938.8,1165.8 L940.8,1165.0 L942.8,1163.8 L944.8,1162.5 L946.8,1160.9 L948.8,1159.2 L950.8,1157.2 L952.8,1155.1 L954.8,1152.8 L956.8,1150.4 L958.8,1147.8 L960.8,1145.1 L962.8,1142.4 L964.8,1139.5 L966.8,1136.6 L968.8,1133.7 L970.8,1130.8 L972.8,1127.9 L974.8,1125.0 L976.8,1122.1 L978.8,1119.4 L980.8,1116.7 L982.8,1114.2 L984.8,1111.8 L986.8,1109.5 L988.8,1107.4 L990.8,1105.5 L992.8,1103.8 L994.8,1102.2 L996.8,1100.9 L998.8,1099.9 L1000.8,1099.0 L1002.8,1098.4 L1004.8,1098.1 L1006.8,1098.0 L1008.8,1098.2 L1010.8,1098.5 L1012.8,1099.2 L1014.8,1100.1 L1016.8,1101.2 L1018.8,1102.5 L1020.8,1104.1 L1022.8,1105.9 L1024.8,1107.8 L1026.8,1109.9 L1028.8,1112.2 L1030.8,1114.7 L1032.8,1117.3 L1034.8,1119.9 L1036.8,1122.7 L1038.8,1125.6 L1040.8,1128.4 L1042.8,1131.4 L1044.8,1134.3 L1046.8,1137.2 L1048.8,1140.1 L1050.8,1142.9 L1052.8,1145.7 L1054.8,1148.3 L1056.8,1150.9 L1058.8,1153.3 L1060.8,1155.6 L1062.8,1157.7 L1064.8,1159.6 L1066.8,1161.3 L1068.8,1162.8 L1070.8,1164.1 L1072.8,1165.1 L1074.9,1166.0 L1076.9,1166.6 L1078.9,1166.9 L1080.9,1167.0 L1082.9,1166.8 L1084.9,1166.4 L1086.9,1165.8 L1088.9,1164.9 L1090.9,1163.8 L1092.9,1162.4 L1094.9,1160.9 L1096.9,1159.1 L1098.9,1157.1 L1100.9,1155.0 L1102.9,1152.7 L1104.9,1150.2 L1106.9,1147.7 L1108.9,1145.0 L1110.9,1142.2 L1112.9,1139.4 L1114.9,1136.5 L1116.9,1133.6 L1118.9,1130.6 L1120.9,1127.7 L1122.9,1124.8 L1124.9,1122.0 L1126.9,1119.2 L1128.9,1116.6 L1130.9,1114.1 L1132.9,1111.6 L1134.9,1109.4 L1136.9,1107.3 L1138.9,1105.4 L1140.9,1103.7 L1142.9,1102.2 L1144.9,1100.9 L1146.9,1099.8 L1148.9,1099.0 L1150.9,1098.4 L1152.9,1098.1 L1154.9,1098.0 L1156.9,1098.2 L1158.9,1098.6 L1160.9,1099.2 L1162.9,1100.1 L1164.9,1101.3 L1166.9,1102.6 L1168.9,1104.2 L1170.9,1106.0 L1172.9,1107.9 L1174.9,1110.1 L1176.9,1112.4 L1178.9,1114.8 L1180.9,1117.4 L1182.9,1120.1 L1184.9,1122.9 L1186.9,1125.7 L1188.9,1128.6 L1190.9,1131.5 L1192.9,1134.4 L1194.9,1137.4 L1196.9,1140.2 L1198.9,1143.1 L1200.9,1145.8 L1202.9,1148.5 L1204.9,1151.0 L1206.9,1153.4 L1208.9,1155.7 L1210.9,1157.8 L1212.9,1159.7 L1214.9,1161.4 L1216.9,1162.9 L1218.9,1164.1 L1220.9,1165.2 L1223.0,1166.0 L1225.0,1166.6 L1227.0,1166.9 L1229.0,1167.0 L1231.0,1166.8 L1233.0,1166.4 L1235.0,1165.8 L1237.0,1164.8 L1239.0,1163.7 L1241.0,1162.4 L1243.0,1160.8 L1245.0,1159.0 L1247.0,1157.0 L1249.0,1154.9 L1251.0,1152.6 L1253.0,1150.1 L1255.0,1147.5 L1257.0,1144.9 L1259.0,1142.1 L1261.0,1139.2 L1263.0,1136.3 L1265.0,1133.4 L1267.0,1130.5 L1269.0,1127.6 L1271.0,1124.7 L1273.0,1121.9 L1275.0,1119.1 L1277.0,1116.5 L1279.0,1113.9 L1281.0,1111.5 L1283.0,1109.3 L1285.0,1107.2 L1287.0,1105.3 L1289.0,1103.6 L1291.0,1102.1 L1293.0,1100.8 L1295.0,1099.8 L1295.0,1098.6 L1293.0,1098.2 L1291.0,1098.0 L1289.0,1098.1 L1287.0,1098.4 L1285.0,1099.0 L1283.0,1099.8 L1281.0,1100.8 L1279.0,1102.1 L1277.0,1103.6 L1275.0,1105.3 L1273.0,1107.2 L1271.0,1109.3 L1269.0,1111.5 L1267.0,1113.9 L1265.0,1116.5 L1263.0,1119.1 L1261.0,1121.9 L1259.0,1124.7 L1257.0,1127.6 L1255.0,1130.5 L1253.0,1133.4 L1251.0,1136.3 L1249.0,1139.2 L1247.0,1142.1 L1245.0,1144.9 L1243.0,1147.6 L1241.0,1150.1 L1239.0,1152.6 L1237.0,1154.9 L1235.0,1157.0 L1233.0,1159.0 L1231.0,1160.8 L1229.0,1162.4 L1227.0,1163.7 L1225.0,1164.9 L1223.0,1165.8 L1220.9,1166.4 L1218.9,1166.8 L1216.9,1167.0 L1214.9,1166.9 L1212.9,1166.6 L1210.9,1166.0 L1208.9,1165.2 L1206.9,1164.1 L1204.9,1162.9 L1202.9,1161.4 L1200.9,1159.6 L1198.9,1157.7 L1196.9,1155.7 L1194.9,1153.4 L1192.9,1151.0 L1190.9,1148.5 L1188.9,1145.8 L1186.9,1143.1 L1184.9,1140.2 L1182.9,1137.4 L1180.9,1134.4 L1178.9,1131.5 L1176.9,1128.6 L1174.9,1125.7 L1172.9,1122.8 L1170.9,1120.1 L1168.9,1117.4 L1166.9,1114.8 L1164.9,1112.4 L1162.9,1110.1 L1160.9,1107.9 L1158.9,1105.9 L1156.9,1104.2 L1154.9,1102.6 L1152.9,1101.2 L1150.9,1100.1 L1148.9,1099.2 L1146.9,1098.6 L1144.9,1098.2 L1142.9,1098.0 L1140.9,1098.1 L1138.9,1098.4 L1136.9,1099.0 L1134.9,1099.8 L1132.9,1100.9 L1130.9,1102.2 L1128.9,1103.7 L1126.9,1105.4 L1124.9,1107.3 L1122.9,1109.4 L1120.9,1111.7 L1118.9,1114.1 L1116.9,1116.6 L1114.9,1119.3 L1112.9,1122.0 L1110.9,1124.8 L1108.9,1127.7 L1106.9,1130.6 L1104.9,1133.6 L1102.9,1136.5 L1100.9,1139.4 L1098.9,1142.2 L1096.9,1145.0 L1094.9,1147.7 L1092.9,1150.3 L1090.9,1152.7 L1088.9,1155.0 L1086.9,1157.1 L1084.9,1159.1 L1082.9,1160.9 L1080.9,1162.4 L1078.9,1163.8 L1076.9,1164.9 L1074.9,1165.8 L1072.8,1166.4 L1070.8,1166.8 L1068.8,1167.0 L1066.8,1166.9 L1064.8,1166.6 L1062.8,1166.0 L1060.8,1165.1 L1058.8,1164.1 L1056.8,1162.8 L1054.8,1161.3 L1052.8,1159.6 L1050.8,1157.6 L1048.8,1155.5 L1046.8,1153.3 L1044.8,1150.9 L1042.8,1148.3 L1040.8,1145.7 L1038.8,1142.9 L1036.8,1140.1 L1034.8,1137.2 L1032.8,1134.3 L1030.8,1131.4 L1028.8,1128.4 L1026.8,1125.5 L1024.8,1122.7 L1022.8,1119.9 L1020.8,1117.2 L1018.8,1114.7 L1016.8,1112.2 L1014.8,1109.9 L1012.8,1107.8 L1010.8,1105.8 L1008.8,1104.1 L1006.8,1102.5 L1004.8,1101.2 L1002.8,1100.1 L1000.8,1099.2 L998.8,1098.5 L996.8,1098.2 L994.8,1098.0 L992.8,1098.1 L990.8,1098.4 L988.8,1099.0 L986.8,1099.9 L984.8,1100.9 L982.8,1102.2 L980.8,1103.8 L978.8,1105.5 L976.8,1107.4 L974.8,1109.5 L972.8,1111.8 L970.8,1114.2 L968.8,1116.7 L966.8,1119.4 L964.8,1122.2 L962.8,1125.0 L960.8,1127.9 L958.8,1130.8 L956.8,1133.7 L954.8,1136.6 L952.8,1139.5 L950.8,1142.4 L948.8,1145.1 L946.8,1147.8 L944.8,1150.4 L942.8,1152.8 L940.8,1155.1 L938.8,1157.2 L936.8,1159.2 L934.8,1161.0 L932.8,1162.5 L930.8,1163.8 L928.8,1165.0 L926.8,1165.8 L924.7,1166.5 L922.7,1166.9 L920.7,1167.0 L918.7,1166.9 L916.7,1166.5 L914.7,1165.9 L912.7,1165.1 L910.7,1164.0 L908.7,1162.7 L906.7,1161.2 L904.7,1159.5 L902.7,1157.5 L900.7,1155.4 L898.7,1153.2 L896.7,1150.8 L894.7,1148.2 L892.7,1145.5 L890.7,1142.8 L888.7,1139.9 L886.7,1137.1 L884.7,1134.1 L882.7,1131.2 L880.7,1128.3 L878.7,1125.4 L876.7,1122.6 L874.7,1119.8 L872.7,1117.1 L870.7,1114.6 L868.7,1112.1 L866.7,1109.8 L864.7,1107.7 L862.7,1105.8 L860.7,1104.0 L858.7,1102.5 L856.7,1101.1 L854.7,1100.0 L852.7,1099.2 L850.7,1098.5 L848.7,1098.1 L846.7,1098.0 L844.7,1098.1 L842.7,1098.5 L840.7,1099.1 L838.7,1099.9 L836.7,1101.0 L834.7,1102.3 L832.7,1103.8 L830.7,1105.6 L828.7,1107.5 L826.7,1109.6 L824.7,1111.9 L822.7,1114.3 L820.7,1116.9 L818.7,1119.5 L816.7,1122.3 L814.7,1125.1 L812.7,1128.0 L810.7,1130.9 L808.7,1133.9 L806.7,1136.8 L804.7,1139.7 L802.7,1142.5 L800.7,1145.3 L798.7,1147.9 L796.7,1150.5 L794.7,1152.9 L792.7,1155.2 L790.7,1157.3 L788.7,1159.3 L786.7,1161.0 L784.7,1162.6 L782.7,1163.9 L780.7,1165.0 L778.7,1165.9 L776.6,1166.5 L774.6,1166.9 L772.6,1167.0 L770.6,1166.9 L768.6,1166.5 L766.6,1165.9 L764.6,1165.0 L762.6,1164.0 L760.6,1162.6 L758.6,1161.1 L756.6,1159.4 L754.6,1157.4 L752.6,1155.3 L750.6,1153.1 L748.6,1150.6 L746.6,1148.1 L744.6,1145.4 L742.6,1142.6 L740.6,1139.8 L738.6,1136.9 L736.6,1134.0 L734.6,1131.1 L732.6,1128.1 L730.6,1125.3 L728.6,1122.4 L726.6,1119.7 L724.6,1117.0 L722.6,1114.4 L720.6,1112.0 L718.6,1109.7 L716.6,1107.6 L714.6,1105.7 L712.6,1103.9 L710.6,1102.4 L708.6,1101.1 L706.6,1100.0 L704.6,1099.1 Z" fill="url(#gDR)" stroke="url(#gDR)" stroke-width="2.4" stroke-linejoin="round"/><path d="M813.0,1098.0 L815.1,1098.1 L817.1,1098.5 L819.1,1099.1 L821.1,1100.0 L823.2,1101.1 L825.2,1102.4 L827.2,1103.9 L829.2,1105.7 L831.3,1107.6 L833.3,1109.7 L835.3,1112.0 L837.3,1114.5 L839.4,1117.0 L841.4,1119.7 L843.4,1122.5 L845.4,1125.3 L847.5,1128.2 L849.5,1131.1 L851.5,1134.1 L853.5,1137.0 L855.6,1139.9 L857.6,1142.7 L859.6,1145.5 L861.6,1148.2 L863.7,1150.7 L865.7,1153.1 L867.7,1155.4 L869.7,1157.5 L871.8,1159.4 L873.8,1161.2 L875.8,1162.7 L875.8,1167.0 L873.8,1166.9 L871.8,1166.5 L869.7,1165.9 L867.7,1165.0 L865.7,1163.9 L863.7,1162.6 L861.6,1161.1 L859.6,1159.3 L857.6,1157.4 L855.6,1155.3 L853.5,1153.0 L851.5,1150.5 L849.5,1148.0 L847.5,1145.3 L845.4,1142.5 L843.4,1139.7 L841.4,1136.8 L839.4,1133.9 L837.3,1130.9 L835.3,1128.0 L833.3,1125.1 L831.3,1122.3 L829.2,1119.5 L827.2,1116.8 L825.2,1114.3 L823.2,1111.9 L821.1,1109.6 L819.1,1107.5 L817.1,1105.6 L815.1,1103.8 L813.0,1102.3 Z" fill="url(#gDG)" stroke="url(#gDG)" stroke-width="2.4" stroke-linejoin="round"/><path d="M962.5,1098.0 L964.6,1098.1 L966.6,1098.5 L968.6,1099.1 L970.6,1100.0 L972.7,1101.1 L974.7,1102.4 L976.7,1103.9 L978.7,1105.7 L980.8,1107.6 L982.8,1109.7 L984.8,1112.0 L986.8,1114.5 L988.9,1117.0 L990.9,1119.7 L992.9,1122.5 L994.9,1125.3 L997.0,1128.2 L999.0,1131.1 L1001.0,1134.1 L1003.0,1137.0 L1005.1,1139.9 L1007.1,1142.7 L1009.1,1145.5 L1011.1,1148.2 L1013.2,1150.7 L1015.2,1153.1 L1017.2,1155.4 L1019.2,1157.5 L1021.3,1159.4 L1023.3,1161.2 L1025.3,1162.7 L1025.3,1167.0 L1023.3,1166.9 L1021.3,1166.5 L1019.2,1165.9 L1017.2,1165.0 L1015.2,1163.9 L1013.2,1162.6 L1011.1,1161.1 L1009.1,1159.3 L1007.1,1157.4 L1005.1,1155.3 L1003.0,1153.0 L1001.0,1150.5 L999.0,1148.0 L997.0,1145.3 L994.9,1142.5 L992.9,1139.7 L990.9,1136.8 L988.9,1133.9 L986.8,1130.9 L984.8,1128.0 L982.8,1125.1 L980.8,1122.3 L978.7,1119.5 L976.7,1116.8 L974.7,1114.3 L972.7,1111.9 L970.6,1109.6 L968.6,1107.5 L966.6,1105.6 L964.6,1103.8 L962.5,1102.3 Z" fill="url(#gDG)" stroke="url(#gDG)" stroke-width="2.4" stroke-linejoin="round"/><path d="M1112.0,1098.0 L1114.1,1098.1 L1116.1,1098.5 L1118.1,1099.1 L1120.1,1100.0 L1122.2,1101.1 L1124.2,1102.4 L1126.2,1103.9 L1128.2,1105.7 L1130.3,1107.6 L1132.3,1109.7 L1134.3,1112.0 L1136.3,1114.5 L1138.4,1117.0 L1140.4,1119.7 L1142.4,1122.5 L1144.4,1125.3 L1146.5,1128.2 L1148.5,1131.1 L1150.5,1134.1 L1152.5,1137.0 L1154.6,1139.9 L1156.6,1142.7 L1158.6,1145.5 L1160.6,1148.2 L1162.7,1150.7 L1164.7,1153.1 L1166.7,1155.4 L1168.7,1157.5 L1170.8,1159.4 L1172.8,1161.2 L1174.8,1162.7 L1174.8,1167.0 L1172.8,1166.9 L1170.8,1166.5 L1168.7,1165.9 L1166.7,1165.0 L1164.7,1163.9 L1162.7,1162.6 L1160.6,1161.1 L1158.6,1159.3 L1156.6,1157.4 L1154.6,1155.3 L1152.5,1153.0 L1150.5,1150.5 L1148.5,1148.0 L1146.5,1145.3 L1144.4,1142.5 L1142.4,1139.7 L1140.4,1136.8 L1138.4,1133.9 L1136.3,1130.9 L1134.3,1128.0 L1132.3,1125.1 L1130.3,1122.3 L1128.2,1119.5 L1126.2,1116.8 L1124.2,1114.3 L1122.2,1111.9 L1120.1,1109.6 L1118.1,1107.5 L1116.1,1105.6 L1114.1,1103.8 L1112.0,1102.3 Z" fill="url(#gDG)" stroke="url(#gDG)" stroke-width="2.4" stroke-linejoin="round"/><path d="M1261.5,1098.0 L1263.6,1098.1 L1265.6,1098.5 L1267.6,1099.1 L1269.6,1100.0 L1271.7,1101.1 L1273.7,1102.4 L1275.7,1103.9 L1277.7,1105.7 L1279.8,1107.6 L1281.8,1109.7 L1283.8,1112.0 L1285.8,1114.5 L1287.9,1117.0 L1289.9,1119.7 L1291.9,1122.5 L1293.9,1125.3 L1296.0,1128.2 L1298.0,1131.1 L1300.0,1134.1 L1302.0,1137.0 L1304.1,1139.9 L1306.1,1142.7 L1308.1,1145.5 L1310.1,1148.2 L1312.2,1150.7 L1314.2,1153.1 L1316.2,1155.4 L1318.2,1157.5 L1320.3,1159.4 L1322.3,1161.2 L1324.3,1162.7 L1324.3,1167.0 L1322.3,1166.9 L1320.3,1166.5 L1318.2,1165.9 L1316.2,1165.0 L1314.2,1163.9 L1312.2,1162.6 L1310.1,1161.1 L1308.1,1159.3 L1306.1,1157.4 L1304.1,1155.3 L1302.0,1153.0 L1300.0,1150.5 L1298.0,1148.0 L1296.0,1145.3 L1293.9,1142.5 L1291.9,1139.7 L1289.9,1136.8 L1287.9,1133.9 L1285.8,1130.9 L1283.8,1128.0 L1281.8,1125.1 L1279.8,1122.3 L1277.7,1119.5 L1275.7,1116.8 L1273.7,1114.3 L1271.7,1111.9 L1269.6,1109.6 L1267.6,1107.5 L1265.6,1105.6 L1263.6,1103.8 L1261.5,1102.3 Z" fill="url(#gDG)" stroke="url(#gDG)" stroke-width="2.4" stroke-linejoin="round"/>
<text x="931" y="1008" font-size="52" font-family="Liberation Sans, sans-serif" font-weight="bold" fill="#000" text-anchor="start" textLength="165" lengthAdjust="spacingAndGlyphs" >ENHO</text>
<text x="676.5" y="1264" font-size="46.5" font-family="Liberation Sans, sans-serif" font-weight="bold" fill="#000" text-anchor="start" textLength="709" lengthAdjust="spacingAndGlyphs" >Transcription and expression</text>
<text x="845.5" y="45" font-size="45.5" font-family="Liberation Sans, sans-serif" font-weight="bold" fill="#000" text-anchor="start" textLength="282.5" lengthAdjust="spacingAndGlyphs" >Liver tissue</text>
<g transform="translate(14.5,177.5) rotate(-10.6)"><text x="0" y="0" font-size="46" font-family="Liberation Sans, sans-serif" font-weight="bold" fill="#000" text-anchor="start" textLength="236" lengthAdjust="spacingAndGlyphs" >Fat tissue</text></g>
<g transform="translate(1669.5,107.5) rotate(12.9)"><text x="0" y="0" font-size="46" font-family="Liberation Sans, sans-serif" font-weight="bold" fill="#000" text-anchor="start" textLength="325" lengthAdjust="spacingAndGlyphs" >Kidney tissue</text></g>
<ellipse cx="630.4" cy="507.5" rx="118" ry="58.5" fill="url(#gLXR)" stroke="#3c3236" stroke-width="2"/>
<text x="571" y="522" font-size="40" font-family="Liberation Sans, sans-serif" font-weight="bold" fill="#3a2427" text-anchor="start" textLength="118" lengthAdjust="spacingAndGlyphs" >LXRα</text>
<ellipse cx="967.3" cy="444.8" rx="118" ry="59" fill="url(#gER)" stroke="#d9813c" stroke-width="2.5"/>
<text x="921" y="460.3" font-size="43" font-family="Liberation Sans, sans-serif" font-weight="bold" fill="#000" text-anchor="start" textLength="91" lengthAdjust="spacingAndGlyphs" >ERα</text>
<ellipse cx="1323" cy="480" rx="116.5" ry="66.5" fill="url(#gROR)" stroke="#a8884a" stroke-width="1.8"/>
<text x="1271" y="495.3" font-size="43" font-family="Liberation Sans, sans-serif" font-weight="bold" fill="#000" text-anchor="start" textLength="103" lengthAdjust="spacingAndGlyphs" >ROR</text>
<ellipse cx="1625.3" cy="585.6" rx="98.5" ry="57.5" fill="url(#gSTAT)" stroke="#2e2c14" stroke-width="2"/>
<text x="1551.5" y="601.3" font-size="42.5" font-family="Liberation Sans, sans-serif" font-weight="bold" fill="#000" text-anchor="start" textLength="146" lengthAdjust="spacingAndGlyphs" >STAT3</text>
<ellipse cx="1762" cy="792.4" rx="132" ry="73" fill="url(#gGLP)" stroke="#1e1214" stroke-width="2"/>
<text x="1694" y="808.6" font-size="42.5" font-family="Liberation Sans, sans-serif" font-weight="bold" fill="#f2e45a" text-anchor="start" textLength="132" lengthAdjust="spacingAndGlyphs" >GLP-1</text>
<g transform="translate(290,669.4) rotate(-35.5)"><ellipse cx="0" cy="0" rx="141" ry="68" fill="url(#gADI)" stroke="#e8502a" stroke-width="2.6"/><text x="-123" y="15" font-size="44" font-family="Liberation Sans, sans-serif" font-weight="bold" fill="#000" text-anchor="start" textLength="246" lengthAdjust="spacingAndGlyphs" >Adipokines</text></g>
<g fill="url(#gFat)"><path d="M 42.2,198.7 L 243.7,187.4 L 260.0,218.2 L 253.5,241.0 L 285.9,250.7 L 289.2,283.2 L 260.0,301.1 L 211.2,306.0 L 178.7,296.2 L 146.2,304.3 L 97.5,309.2 L 65.0,296.2 L 56.9,263.7 L 32.5,247.5 L 29.2,218.2 Z" fill="#d6d621"/><circle cx="32.5" cy="219.9" r="13.9"/><circle cx="32.5" cy="241.0" r="13.0"/><circle cx="47.1" cy="250.7" r="13.0"/><circle cx="63.4" cy="293.0" r="13.0"/><circle cx="60.1" cy="275.1" r="13.9"/><circle cx="130.0" cy="249.1" r="12.0"/><circle cx="130.0" cy="262.1" r="11.1"/><circle cx="180.3" cy="291.3" r="13.0"/><circle cx="216.1" cy="190.6" r="13.9"/><circle cx="214.5" cy="206.9" r="13.9"/><circle cx="248.6" cy="242.6" r="13.9"/><circle cx="285.9" cy="283.2" r="13.9"/><circle cx="100.7" cy="210.1" r="13.9"/><circle cx="102.4" cy="195.5" r="14.8"/><circle cx="227.5" cy="223.1" r="14.8"/><circle cx="255.1" cy="219.9" r="14.8"/><circle cx="276.2" cy="245.9" r="14.8"/><circle cx="138.1" cy="208.5" r="14.8"/><circle cx="162.5" cy="219.9" r="14.8"/><circle cx="48.7" cy="203.6" r="17.6"/><circle cx="76.4" cy="198.7" r="16.7"/><circle cx="128.4" cy="197.1" r="17.6"/><circle cx="164.1" cy="200.4" r="16.7"/><circle cx="190.1" cy="195.5" r="16.7"/><circle cx="242.1" cy="190.6" r="15.7"/><circle cx="253.5" cy="203.6" r="16.7"/><circle cx="53.6" cy="228.0" r="16.7"/><circle cx="105.6" cy="252.4" r="15.7"/><circle cx="199.8" cy="254.0" r="16.7"/><circle cx="222.6" cy="250.7" r="15.7"/><circle cx="282.7" cy="257.2" r="17.6"/><circle cx="144.6" cy="278.4" r="15.7"/><circle cx="172.2" cy="281.6" r="15.7"/><circle cx="203.1" cy="280.0" r="15.7"/><circle cx="258.3" cy="278.4" r="15.7"/><circle cx="285.9" cy="273.5" r="15.7"/><circle cx="87.7" cy="302.7" r="15.7"/><circle cx="149.5" cy="296.2" r="16.7"/><circle cx="206.3" cy="299.5" r="16.7"/><circle cx="235.6" cy="304.3" r="15.7"/><circle cx="266.5" cy="293.0" r="16.7"/><circle cx="120.2" cy="307.6" r="17.6"/><circle cx="78.0" cy="260.5" r="17.6"/><circle cx="165.7" cy="260.5" r="18.5"/><circle cx="86.1" cy="284.8" r="17.6"/><circle cx="113.7" cy="228.0" r="15.7"/><circle cx="139.7" cy="234.5" r="15.7"/><circle cx="180.3" cy="247.5" r="14.8"/><circle cx="146.2" cy="254.0" r="14.8"/><circle cx="253.5" cy="263.7" r="15.7"/><circle cx="240.5" cy="262.1" r="14.8"/><circle cx="104.0" cy="271.9" r="14.8"/><circle cx="186.8" cy="267.0" r="14.8"/><circle cx="224.2" cy="231.2" r="14.8"/><circle cx="123.5" cy="218.2" r="13.9"/><circle cx="84.5" cy="231.2" r="20.4"/><circle cx="196.6" cy="228.0" r="20.4"/><circle cx="113.7" cy="286.5" r="20.4"/><circle cx="230.7" cy="281.6" r="20.4"/></g>
<path d="M 920.7,81.0 C 933.1,74.1 945.5,70.7 956.5,71.0 C 970.3,70.4 984.1,72.7 997.9,75.9 C 1010.3,78.3 1019.9,81.0 1025.4,85.2 L 1039.2,83.8 C 1053.0,87.2 1066.8,87.5 1080.6,88.9 C 1094.4,90.3 1108.1,93.8 1116.4,101.0 L 1115.0,104.5 L 1025.4,91.4 L 922.0,83.8 Z" fill="#f3e168"/><path d="M 1024.0,82.4 L 1039.9,82.4 L 1039.2,91.4 L 1022.7,90.0 Z" fill="#f8f0a8"/><path d="M 887.6,208.5 C 880.7,187.9 876.5,167.2 879.3,146.5 C 882.1,127.2 887.6,116.2 894.5,107.9 C 904.1,95.5 912.4,87.2 922.0,81.7 C 933.1,75.5 945.5,72.7 956.5,72.7 C 970.3,72.1 984.1,74.8 997.9,77.6 C 1008.9,79.6 1017.2,82.4 1022.7,86.5 C 1025.4,88.6 1024.0,94.1 1018.5,105.1 L 1004.7,139.6 L 991.0,171.3 C 988.2,174.1 985.4,175.4 982.7,176.1 C 970.3,178.2 956.5,182.3 945.5,185.8 C 942.7,187.9 944.1,189.2 937.2,190.6 C 922.0,194.1 912.4,196.1 906.9,198.2 C 900.0,201.6 894.5,205.8 887.6,208.5 Z" fill="url(#gLivL)"/><path d="M 1037.8,90.0 C 1053.0,89.3 1066.8,89.3 1080.6,90.7 C 1094.4,92.0 1108.1,95.5 1115.0,102.4 C 1119.9,107.9 1119.2,116.2 1115.7,124.4 C 1112.3,132.7 1106.8,139.6 1099.9,146.5 C 1091.6,154.8 1083.3,160.3 1073.7,165.8 C 1064.0,171.3 1053.0,174.8 1043.3,176.1 C 1030.9,177.5 1018.5,176.8 1008.9,175.7 L 1004.1,172.7 L 1018.5,135.5 L 1032.3,102.4 Z" fill="url(#gLivR)"/><path d="M 944.8,184.4 C 953.7,180.3 970.3,177.5 984.1,176.6 L 997.9,178.9 C 998.5,180.7 992.3,182.1 984.1,183.4 C 973.0,184.8 966.1,186.8 959.9,189.5 C 953.7,191.7 947.5,189.5 944.8,185.8 Z" fill="#6b3aaa"/><path d="M 948.2,185.8 C 956.5,183.0 967.5,181.0 978.6,180.3 C 970.3,183.0 964.8,185.8 959.3,187.9 C 955.1,189.2 950.3,188.3 948.2,185.8 Z" fill="#5a2e96"/><path d="M 982.0,172.0 L 1004.1,174.1 L 1005.4,177.1 C 1000.6,179.6 997.9,179.9 995.8,179.3 L 983.4,176.1 Z" fill="#fdf6dc"/><path d="M 996.5,178.9 C 1000.6,178.9 1004.1,176.8 1006.1,174.8 L 1007.2,176.1 C 1004.7,178.9 1000.6,180.7 995.8,180.3 Z" fill="#4a3a5a"/><path d="M 1027.5,86.1 C 1022.7,96.9 1017.2,113.4 1010.3,132.7 C 1004.7,147.9 997.9,163.0 990.3,173.4" fill="none" stroke="#ece25e" stroke-width="3.2" stroke-linecap="round"/><path d="M 1034.0,87.9 C 1028.9,98.9 1024.0,114.8 1017.3,134.1 C 1011.6,149.3 1005.0,164.4 998.1,174.1" fill="none" stroke="#fdf4c4" stroke-width="7.4" stroke-linecap="round"/>
<path d="M 1834.9,257.6 C 1840.3,254.9 1848.5,257.6 1852.1,266.7 C 1855.7,277.6 1855.7,292.0 1859.3,306.5 C 1864.8,324.6 1873.8,340.9 1882.9,355.0 L 1876.2,359.4 C 1867.5,344.5 1860.2,328.2 1854.8,311.9 C 1851.2,299.3 1847.6,284.8 1843.9,273.9 C 1841.2,266.7 1836.7,264.9 1834.9,257.6 Z" fill="#efb22e"/><path d="M 1876.2,359.4 L 1882.9,355.0 L 1881.0,351.8 L 1873.8,355.4 Z" fill="#e8801c"/><path d="M 1834.9,240.5 C 1847.6,237.7 1858.4,230.5 1863.5,222.4 L 1870.7,226.5 C 1867.8,235.9 1858.8,243.5 1847.6,248.1 C 1842.1,249.9 1836.7,247.7 1834.9,240.5 Z" fill="#f3f1e8" stroke="#dcd8cc" stroke-width="0.8"/><ellipse cx="1867.1" cy="225.1" rx="3" ry="4.5" fill="#b8a468" transform="rotate(30 1867.1 225.1)"/><path d="M 1825.8,231.4 C 1836.7,228.7 1847.6,219.6 1854.4,208.4 L 1862.4,212.4 C 1858.8,222.4 1851.5,231.4 1844.3,236.3 C 1836.7,241.0 1829.5,239.2 1825.8,235.9 Z" fill="#e8621c"/><path d="M 1825.8,232.7 C 1833.1,234.1 1840.3,235.0 1844.8,234.1" fill="none" stroke="#fbeee0" stroke-width="1.4"/><path d="M 1804.1,192.5 C 1818.6,189.8 1833.1,188.9 1840.3,192.5 C 1849.4,197.0 1851.2,207.0 1845.7,217.8 C 1840.3,226.9 1829.5,230.5 1827.6,235.9 C 1827.6,245.0 1833.1,252.2 1836.7,261.3 C 1843.9,277.6 1853.0,299.3 1854.8,321.0 C 1855.7,335.5 1853.0,346.3 1843.9,353.6 C 1834.9,360.8 1822.2,363.5 1811.4,362.6 C 1796.9,360.8 1786.0,355.4 1775.2,344.5 C 1762.5,331.9 1751.6,313.8 1742.6,295.7 C 1735.3,281.2 1730.8,266.7 1731.7,252.2 C 1732.6,237.7 1737.1,225.1 1744.4,216.0 C 1753.4,205.2 1767.9,197.9 1782.4,194.3 C 1789.6,192.9 1796.9,192.9 1804.1,192.5 Z" fill="url(#gKid)"/><path d="M 1744.4,216.9 C 1746.2,201.5 1753.4,188.9 1762.5,179.8 C 1771.5,169.0 1782.4,161.7 1795.1,158.1 C 1807.7,154.5 1822.2,153.6 1833.1,156.3 C 1843.9,159.0 1853.0,167.1 1856.6,176.2 C 1860.6,185.2 1859.9,192.9 1854.8,196.5 C 1849.4,194.3 1843.9,191.0 1836.7,190.1 C 1825.8,188.9 1815.0,190.7 1804.1,193.4 C 1791.4,197.0 1780.6,203.3 1771.5,210.6 C 1764.3,216.0 1757.1,220.0 1751.6,220.0 C 1748.0,220.0 1745.3,219.3 1744.4,216.9 Z" fill="#c6b838"/><g fill="url(#gBump)" clip-path="url(#cCap)"><ellipse cx="1740.2" cy="152.8" rx="5.8" ry="5.1"/><ellipse cx="1751.9" cy="152.9" rx="5.3" ry="4.7"/><ellipse cx="1761.4" cy="153.4" rx="5.6" ry="4.9"/><ellipse cx="1772.8" cy="153.7" rx="5.9" ry="5.2"/><ellipse cx="1784.9" cy="152.6" rx="6.2" ry="5.4"/><ellipse cx="1794.3" cy="153.0" rx="6.5" ry="5.7"/><ellipse cx="1806.0" cy="153.2" rx="6.2" ry="5.5"/><ellipse cx="1815.8" cy="153.2" rx="6.1" ry="5.4"/><ellipse cx="1827.2" cy="151.7" rx="6.5" ry="5.7"/><ellipse cx="1838.4" cy="153.1" rx="6.5" ry="5.7"/><ellipse cx="1849.8" cy="153.6" rx="5.8" ry="5.1"/><ellipse cx="1860.9" cy="152.5" rx="6.6" ry="5.8"/><ellipse cx="1747.0" cy="160.5" rx="5.4" ry="4.8"/><ellipse cx="1756.4" cy="162.4" rx="5.9" ry="5.2"/><ellipse cx="1768.2" cy="160.9" rx="6.0" ry="5.3"/><ellipse cx="1778.5" cy="161.0" rx="6.1" ry="5.4"/><ellipse cx="1789.8" cy="162.2" rx="6.2" ry="5.5"/><ellipse cx="1801.4" cy="162.1" rx="6.7" ry="5.9"/><ellipse cx="1811.7" cy="160.6" rx="6.5" ry="5.7"/><ellipse cx="1823.2" cy="162.2" rx="6.1" ry="5.3"/><ellipse cx="1833.5" cy="160.7" rx="6.5" ry="5.7"/><ellipse cx="1844.1" cy="160.9" rx="5.3" ry="4.7"/><ellipse cx="1855.6" cy="162.4" rx="5.4" ry="4.7"/><ellipse cx="1741.4" cy="169.9" rx="5.5" ry="4.8"/><ellipse cx="1751.2" cy="170.6" rx="6.5" ry="5.7"/><ellipse cx="1761.5" cy="170.3" rx="5.3" ry="4.7"/><ellipse cx="1773.8" cy="169.7" rx="6.5" ry="5.7"/><ellipse cx="1785.3" cy="170.1" rx="6.7" ry="5.9"/><ellipse cx="1794.7" cy="169.1" rx="6.1" ry="5.4"/><ellipse cx="1804.9" cy="169.4" rx="5.8" ry="5.1"/><ellipse cx="1817.0" cy="169.3" rx="5.3" ry="4.7"/><ellipse cx="1828.4" cy="169.6" rx="6.6" ry="5.8"/><ellipse cx="1839.4" cy="169.8" rx="5.9" ry="5.2"/><ellipse cx="1849.4" cy="170.4" rx="6.1" ry="5.4"/><ellipse cx="1860.4" cy="170.3" rx="6.6" ry="5.8"/><ellipse cx="1746.2" cy="178.6" rx="6.3" ry="5.5"/><ellipse cx="1756.5" cy="178.3" rx="6.7" ry="5.9"/><ellipse cx="1768.0" cy="178.8" rx="5.3" ry="4.6"/><ellipse cx="1778.6" cy="178.9" rx="5.3" ry="4.6"/><ellipse cx="1789.9" cy="179.0" rx="5.3" ry="4.7"/><ellipse cx="1800.8" cy="178.7" rx="6.2" ry="5.5"/><ellipse cx="1811.0" cy="179.2" rx="6.3" ry="5.6"/><ellipse cx="1821.2" cy="177.8" rx="6.2" ry="5.5"/><ellipse cx="1834.1" cy="178.2" rx="5.9" ry="5.2"/><ellipse cx="1844.1" cy="178.3" rx="5.8" ry="5.1"/><ellipse cx="1854.4" cy="178.4" rx="6.1" ry="5.4"/><ellipse cx="1740.3" cy="187.2" rx="6.4" ry="5.6"/><ellipse cx="1750.6" cy="187.6" rx="6.3" ry="5.6"/><ellipse cx="1762.1" cy="186.8" rx="6.4" ry="5.6"/><ellipse cx="1772.8" cy="186.7" rx="5.9" ry="5.2"/><ellipse cx="1784.6" cy="186.6" rx="5.7" ry="5.0"/><ellipse cx="1794.7" cy="188.1" rx="5.9" ry="5.2"/><ellipse cx="1806.7" cy="186.7" rx="5.7" ry="5.0"/><ellipse cx="1817.1" cy="188.3" rx="5.9" ry="5.2"/><ellipse cx="1827.0" cy="186.6" rx="6.0" ry="5.3"/><ellipse cx="1837.8" cy="188.1" rx="6.5" ry="5.7"/><ellipse cx="1848.7" cy="186.9" rx="6.4" ry="5.6"/><ellipse cx="1860.5" cy="188.1" rx="5.7" ry="5.1"/><ellipse cx="1745.4" cy="195.7" rx="6.4" ry="5.6"/><ellipse cx="1756.6" cy="195.8" rx="5.9" ry="5.2"/><ellipse cx="1767.7" cy="195.9" rx="6.6" ry="5.8"/><ellipse cx="1778.0" cy="195.0" rx="6.6" ry="5.8"/><ellipse cx="1790.5" cy="197.2" rx="5.9" ry="5.2"/><ellipse cx="1801.5" cy="197.0" rx="5.6" ry="4.9"/><ellipse cx="1811.9" cy="196.8" rx="6.2" ry="5.5"/><ellipse cx="1822.3" cy="195.7" rx="5.7" ry="5.1"/><ellipse cx="1832.5" cy="195.2" rx="6.1" ry="5.4"/><ellipse cx="1843.5" cy="196.8" rx="5.3" ry="4.7"/><ellipse cx="1855.7" cy="196.5" rx="6.6" ry="5.8"/><ellipse cx="1741.6" cy="205.7" rx="6.1" ry="5.4"/><ellipse cx="1750.6" cy="205.3" rx="5.5" ry="4.8"/><ellipse cx="1762.1" cy="205.2" rx="6.0" ry="5.3"/><ellipse cx="1773.2" cy="205.7" rx="6.1" ry="5.4"/><ellipse cx="1783.9" cy="204.3" rx="6.5" ry="5.7"/><ellipse cx="1795.0" cy="205.4" rx="5.8" ry="5.1"/><ellipse cx="1805.3" cy="204.9" rx="6.4" ry="5.7"/><ellipse cx="1816.1" cy="205.4" rx="6.6" ry="5.8"/><ellipse cx="1828.3" cy="205.5" rx="5.3" ry="4.6"/><ellipse cx="1838.8" cy="205.6" rx="5.3" ry="4.7"/><ellipse cx="1848.9" cy="204.3" rx="6.0" ry="5.3"/><ellipse cx="1860.1" cy="204.7" rx="6.4" ry="5.6"/><ellipse cx="1745.1" cy="212.5" rx="5.4" ry="4.8"/><ellipse cx="1756.2" cy="212.5" rx="6.7" ry="5.9"/><ellipse cx="1768.7" cy="212.6" rx="6.0" ry="5.3"/><ellipse cx="1778.4" cy="213.1" rx="5.8" ry="5.1"/><ellipse cx="1790.0" cy="213.7" rx="5.8" ry="5.1"/><ellipse cx="1799.8" cy="213.1" rx="5.4" ry="4.8"/><ellipse cx="1811.5" cy="214.0" rx="5.8" ry="5.1"/><ellipse cx="1821.3" cy="212.8" rx="5.8" ry="5.1"/><ellipse cx="1833.3" cy="214.1" rx="5.8" ry="5.1"/><ellipse cx="1844.6" cy="213.8" rx="5.9" ry="5.2"/><ellipse cx="1854.5" cy="213.5" rx="6.3" ry="5.5"/><ellipse cx="1740.6" cy="222.6" rx="5.9" ry="5.2"/><ellipse cx="1751.1" cy="222.2" rx="6.3" ry="5.5"/><ellipse cx="1761.6" cy="222.0" rx="5.9" ry="5.2"/><ellipse cx="1774.2" cy="223.1" rx="5.8" ry="5.1"/><ellipse cx="1785.1" cy="222.8" rx="5.6" ry="5.0"/><ellipse cx="1795.0" cy="221.4" rx="6.4" ry="5.7"/><ellipse cx="1806.3" cy="223.0" rx="6.4" ry="5.6"/><ellipse cx="1817.2" cy="222.7" rx="6.1" ry="5.3"/><ellipse cx="1826.8" cy="222.4" rx="5.3" ry="4.6"/><ellipse cx="1837.7" cy="222.8" rx="5.3" ry="4.7"/><ellipse cx="1848.5" cy="221.3" rx="6.5" ry="5.7"/><ellipse cx="1859.5" cy="221.1" rx="6.5" ry="5.7"/></g>
<path d="M162.9,323.6 L205.8,516.0 L192.3,516.5 L235.0,613.0 L232.3,507.5 L219.9,512.9 L177.1,320.4 Z" fill="#c0c0c0"/>
<path d="M834.9,199.5 L735.1,351.4 L725.2,342.7 L694.7,432.0 L760.2,364.1 L747.6,359.6 L847.5,207.7 Z" fill="#c0c0c0"/>
<path d="M992.2,200.9 L983.6,319.5 L971.9,316.0 L986.5,379.0 L1010.7,319.0 L998.6,320.5 L1007.2,201.9 Z" fill="#c0c0c0"/>
<path d="M1102.2,197.1 L1200.3,312.6 L1189.4,318.2 L1254.4,367.0 L1219.0,293.8 L1211.3,303.2 L1113.2,187.7 Z" fill="#c0c0c0"/>
<path d="M1724.9,335.0 L1687.6,458.9 L1677.7,453.4 L1675.6,524.0 L1712.3,463.6 L1701.0,462.9 L1738.3,339.0 Z" fill="#c0c0c0"/>
<path d="M1898.5,343.5 L1975,409 Q2000,430 1982,456 L1846,632" fill="none" stroke="#c0c0c0" stroke-width="21.5" stroke-linejoin="round"/>
<path d="M1817,612 L1862,645.5 L1770,713 Z" fill="#c0c0c0"/>
<path d="M332,739 Q604,962 800,1024" fill="none" stroke="#7b7b38" stroke-width="5" stroke-dasharray="13 5.5"/><path d="M0,0 L-17,-7.5 L-17,7.5 Z" fill="#7b7b38" transform="translate(814,1027.6) rotate(14)"/>
<path d="M643,580.7 L835.9,907.9" fill="none" stroke="#7b7b38" stroke-width="5" stroke-dasharray="13 5.5"/><path d="M0,0 L-17,-7.5 L-17,7.5 Z" fill="#7b7b38" transform="translate(843,920) rotate(59.48282464992869)"/>
<path d="M936,503.5 L963.0,868.0" fill="none" stroke="#7b7b38" stroke-width="5" stroke-dasharray="13 5.5"/><path d="M0,0 L-17,-7.5 L-17,7.5 Z" fill="#7b7b38" transform="translate(964,882) rotate(85.76918116117008)"/>
<path d="M1296.4,548.8 L1216.3,877.4" fill="none" stroke="#7b7b38" stroke-width="5" stroke-dasharray="13 5.5"/><path d="M0,0 L-17,-7.5 L-17,7.5 Z" fill="#7b7b38" transform="translate(1213,891) rotate(103.6969390032177)"/>
<path d="M1626,645 Q1500,830 1246,944" fill="none" stroke="#7b7b38" stroke-width="5" stroke-dasharray="13 5.5"/><path d="M0,0 L-17,-7.5 L-17,7.5 Z" fill="#7b7b38" transform="translate(1233,950.5) rotate(155)"/>
<path d="M1706,860 Q1500,985 1230,1018" fill="none" stroke="#7b7b38" stroke-width="5" stroke-dasharray="13 5.5"/><path d="M0,0 L-17,-7.5 L-17,7.5 Z" fill="#7b7b38" transform="translate(1215,1020.5) rotate(172)"/>
</svg></body></html>
